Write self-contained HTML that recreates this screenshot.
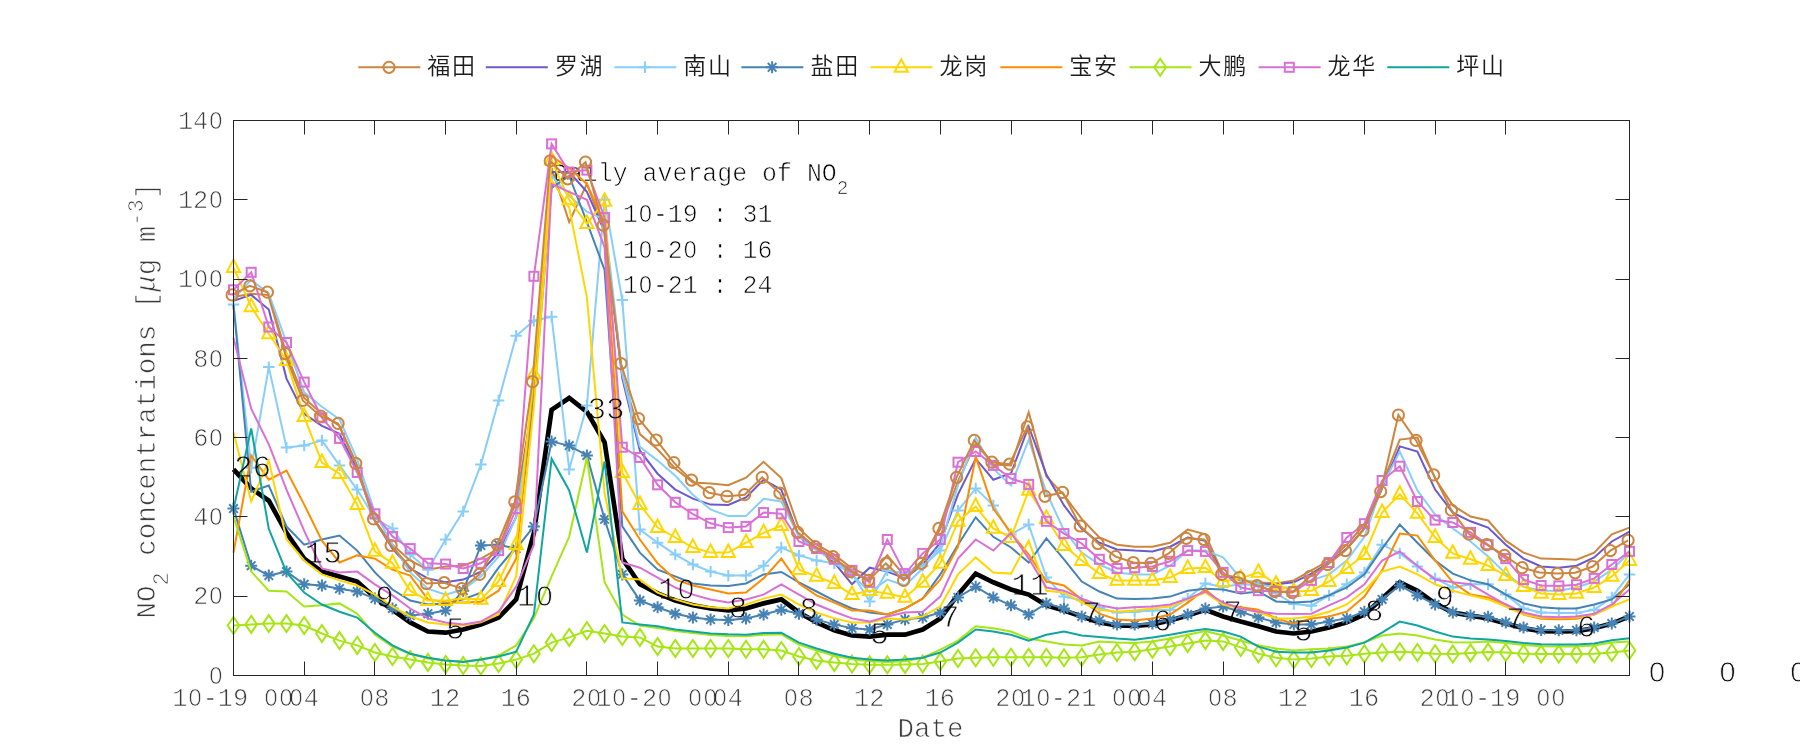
<!DOCTYPE html>
<html lang="zh"><head><meta charset="utf-8"><title>NO2 concentrations</title>
<style>
html,body{margin:0;padding:0;background:#fff;}
body{width:1800px;height:750px;overflow:hidden;}
svg{display:block;will-change:transform;}
.thin text{paint-order:fill stroke;stroke:#fff;stroke-width:0.7px;mix-blend-mode:multiply;}
.thin3 text{paint-order:fill stroke;stroke:#fff;stroke-width:0.7px;}
.thin2{mix-blend-mode:multiply;}
.thin2 text{paint-order:fill stroke;stroke:#fff;stroke-width:0.85px;}
</style></head><body>
<svg width="1800" height="750" viewBox="0 0 1800 750">
<rect width="1800" height="750" fill="#fff"/>
<defs><clipPath id="cp"><rect x="221.5" y="108.5" width="1420.0" height="579.0"/></clipPath></defs>
<g font-family="'Liberation Mono', monospace" font-size="24.9" fill="#000" class="thin3">
<text x="553" y="181">Daily average of NO<tspan dy="12.5" font-size="19.5">2</tspan></text>
<text y="222.0" xml:space="preserve" ><tspan x="623.00">1</tspan><tspan x="638.94" font-family="'Liberation Sans', sans-serif" font-size="23.28">0</tspan><tspan x="652.88">-19 : 31</tspan></text>
<text y="257.5" xml:space="preserve" ><tspan x="623.00">1</tspan><tspan x="638.94" font-family="'Liberation Sans', sans-serif" font-size="23.28">0</tspan><tspan x="652.88">-2</tspan><tspan x="683.77" font-family="'Liberation Sans', sans-serif" font-size="23.28">0</tspan><tspan x="697.71"> : 16</tspan></text>
<text y="293.0" xml:space="preserve" ><tspan x="623.00">1</tspan><tspan x="638.94" font-family="'Liberation Sans', sans-serif" font-size="23.28">0</tspan><tspan x="652.88">-21 : 24</tspan></text>
</g>
<g clip-path="url(#cp)"><polyline points="233.5,469.4 251.2,488.4 268.8,500.7 286.5,532.8 304.2,558.6 321.9,571.6 339.5,576.4 357.2,581.5 374.9,597.4 392.5,609.7 410.2,622.4 427.9,631.5 445.6,632.7 463.2,629.5 480.9,624.4 498.6,617.6 516.2,599.4 533.9,532.8 551.6,409.9 569.2,398.0 586.9,411.9 604.6,442.4 622.3,558.6 639.9,584.3 657.6,593.4 675.3,600.6 692.9,605.3 710.6,608.5 728.3,610.5 746.0,608.5 763.6,603.4 781.3,599.4 799.0,612.5 816.6,622.4 834.3,630.3 852.0,635.5 869.7,636.6 887.3,634.7 905.0,634.7 922.7,629.5 940.3,618.4 958.0,594.6 975.7,573.6 993.3,582.3 1011.0,589.5 1028.7,594.6 1046.4,605.3 1064.0,610.5 1081.7,616.4 1099.4,622.4 1117.0,625.5 1134.7,625.9 1152.4,624.4 1170.1,620.4 1187.7,615.6 1205.4,609.7 1223.1,616.4 1240.7,621.6 1258.4,626.3 1276.1,631.5 1293.8,633.5 1311.4,631.5 1329.1,627.5 1346.8,622.4 1364.4,614.5 1382.1,598.6 1399.8,582.3 1417.4,590.7 1435.1,603.4 1452.8,612.5 1470.5,615.6 1488.1,618.4 1505.8,623.6 1523.5,628.3 1541.1,631.1 1558.8,631.5 1576.5,631.1 1594.2,628.3 1611.8,623.6 1629.5,616.4" fill="none" stroke="#000" stroke-width="4.70" stroke-linejoin="miter" />
<polyline points="233.5,296.9 251.2,293.7 268.8,294.9 286.5,354.4 304.2,398.0 321.9,413.9 339.5,425.8 357.2,465.4 374.9,520.9 392.5,544.7 410.2,560.5 427.9,569.7 445.6,566.5 463.2,565.7 480.9,558.6 498.6,548.6 516.2,501.1 533.9,398.0 551.6,168.1 569.2,222.0 586.9,183.9 604.6,231.5 622.3,374.2 639.9,434.1 657.6,449.5 675.3,468.6 692.9,482.4 710.6,483.6 728.3,485.2 746.0,477.7 763.6,461.8 781.3,478.1 799.0,528.8 816.6,544.7 834.3,554.6 852.0,568.5 869.7,576.4 887.3,555.4 905.0,576.4 922.7,560.5 940.3,528.8 958.0,481.2 975.7,443.6 993.3,464.6 1011.0,465.4 1028.7,412.3 1046.4,476.5 1064.0,495.1 1081.7,518.9 1099.4,537.5 1117.0,544.7 1134.7,546.7 1152.4,546.7 1170.1,542.7 1187.7,529.6 1205.4,534.4 1223.1,574.4 1240.7,580.4 1258.4,582.3 1276.1,583.5 1293.8,580.4 1311.4,570.4 1329.1,560.5 1346.8,544.7 1364.4,524.5 1382.1,484.4 1399.8,439.6 1417.4,437.6 1435.1,478.5 1452.8,505.4 1470.5,516.5 1488.1,520.5 1505.8,540.7 1523.5,552.6 1541.1,558.6 1558.8,559.0 1576.5,559.7 1594.2,552.6 1611.8,534.4 1629.5,527.6" fill="none" stroke="#CD853F" stroke-width="2.00" stroke-linejoin="miter" />
<polyline points="233.5,300.9 251.2,294.9 268.8,309.6 286.5,378.6 304.2,413.9 321.9,425.8 339.5,433.7 357.2,469.4 374.9,520.9 392.5,548.6 410.2,568.5 427.9,578.4 445.6,582.3 463.2,579.6 480.9,571.6 498.6,552.6 516.2,516.9 533.9,390.1 551.6,172.0 569.2,172.0 586.9,191.9 604.6,231.5 622.3,378.2 639.9,450.7 657.6,473.7 675.3,489.6 692.9,498.7 710.6,504.6 728.3,505.0 746.0,497.5 763.6,479.7 781.3,489.6 799.0,536.8 816.6,548.6 834.3,562.5 852.0,584.3 869.7,567.7 887.3,571.6 905.0,578.4 922.7,564.5 940.3,542.7 958.0,494.3 975.7,458.7 993.3,479.7 1011.0,473.3 1028.7,426.5 1046.4,474.5 1064.0,505.4 1081.7,528.8 1099.4,542.7 1117.0,549.4 1134.7,550.6 1152.4,551.4 1170.1,546.7 1187.7,537.5 1205.4,540.7 1223.1,575.6 1240.7,579.6 1258.4,584.3 1276.1,584.3 1293.8,582.3 1311.4,573.6 1329.1,562.5 1346.8,548.6 1364.4,528.4 1382.1,488.4 1399.8,446.4 1417.4,451.5 1435.1,489.6 1452.8,512.6 1470.5,521.3 1488.1,527.6 1505.8,544.7 1523.5,558.6 1541.1,566.5 1558.8,567.7 1576.5,565.7 1594.2,557.4 1611.8,541.5 1629.5,531.6" fill="none" stroke="#6A5ACD" stroke-width="2.00" stroke-linejoin="miter" />
<polyline points="233.5,298.9 251.2,279.9 268.8,293.7 286.5,342.5 304.2,392.4 321.9,406.7 339.5,419.4 357.2,459.4 374.9,512.6 392.5,544.7 410.2,572.4 427.9,588.7 445.6,594.6 463.2,589.5 480.9,576.4 498.6,556.6 516.2,516.9 533.9,398.0 551.6,176.0 569.2,195.8 586.9,211.7 604.6,219.6 622.3,374.2 639.9,446.8 657.6,460.6 675.3,475.7 692.9,494.7 710.6,509.4 728.3,516.1 746.0,516.1 763.6,498.7 781.3,501.5 799.0,536.8 816.6,550.6 834.3,560.5 852.0,574.4 869.7,592.2 887.3,579.6 905.0,585.5 922.7,568.5 940.3,546.7 958.0,485.2 975.7,437.6 993.3,468.6 1011.0,485.6 1028.7,439.6 1046.4,492.4 1064.0,530.4 1081.7,552.6 1099.4,564.5 1117.0,572.4 1134.7,574.4 1152.4,574.4 1170.1,565.7 1187.7,550.6 1205.4,550.6 1223.1,557.4 1240.7,578.4 1258.4,584.3 1276.1,587.5 1293.8,587.5 1311.4,580.4 1329.1,574.4 1346.8,560.5 1364.4,536.8 1382.1,486.4 1399.8,451.5 1417.4,490.4 1435.1,514.5 1452.8,528.4 1470.5,541.5 1488.1,556.6 1505.8,573.6 1523.5,586.7 1541.1,590.7 1558.8,590.7 1576.5,587.5 1594.2,581.5 1611.8,569.7 1629.5,552.6" fill="none" stroke="#87CEFA" stroke-width="2.00" stroke-linejoin="miter" />
<polyline points="233.5,304.4 251.2,467.8 268.8,367.1 286.5,447.6 304.2,445.6 321.9,440.4 339.5,465.4 357.2,489.6 374.9,518.5 392.5,528.4 410.2,554.6 427.9,569.7 445.6,539.5 463.2,511.4 480.9,464.6 498.6,400.4 516.2,335.8 533.9,320.7 551.6,316.7 569.2,469.4 586.9,405.5 604.6,199.8 622.3,300.1 639.9,529.6 657.6,542.7 675.3,554.6 692.9,564.5 710.6,571.6 728.3,575.6 746.0,575.6 763.6,565.7 781.3,547.5 799.0,555.4 816.6,560.5 834.3,563.3 852.0,573.6 869.7,601.4 887.3,570.4 905.0,573.6 922.7,565.7 940.3,550.6 958.0,510.6 975.7,488.4 993.3,505.4 1011.0,534.4 1028.7,524.5 1046.4,577.6 1064.0,596.6 1081.7,600.2 1099.4,608.1 1117.0,612.5 1134.7,611.7 1152.4,610.5 1170.1,609.7 1187.7,598.6 1205.4,583.5 1223.1,586.7 1240.7,584.3 1258.4,585.1 1276.1,593.4 1293.8,604.1 1311.4,605.7 1329.1,595.4 1346.8,584.3 1364.4,572.4 1382.1,544.7 1399.8,553.4 1417.4,566.5 1435.1,578.4 1452.8,587.5 1470.5,584.3 1488.1,584.3 1505.8,594.6 1523.5,608.5 1541.1,612.5 1558.8,612.9 1576.5,612.9 1594.2,609.7 1611.8,597.4 1629.5,574.4" fill="none" stroke="#87CEFA" stroke-width="2.00" stroke-linejoin="miter" />
<g><path d="M227.8 304.4h11.4M233.5 298.7v11.4" stroke="#87CEFA" stroke-width="2.0" fill="none"/><path d="M245.5 467.8h11.4M251.2 462.1v11.4" stroke="#87CEFA" stroke-width="2.0" fill="none"/><path d="M263.1 367.1h11.4M268.8 361.4v11.4" stroke="#87CEFA" stroke-width="2.0" fill="none"/><path d="M280.8 447.6h11.4M286.5 441.9v11.4" stroke="#87CEFA" stroke-width="2.0" fill="none"/><path d="M298.5 445.6h11.4M304.2 439.9v11.4" stroke="#87CEFA" stroke-width="2.0" fill="none"/><path d="M316.2 440.4h11.4M321.9 434.7v11.4" stroke="#87CEFA" stroke-width="2.0" fill="none"/><path d="M333.8 465.4h11.4M339.5 459.7v11.4" stroke="#87CEFA" stroke-width="2.0" fill="none"/><path d="M351.5 489.6h11.4M357.2 483.9v11.4" stroke="#87CEFA" stroke-width="2.0" fill="none"/><path d="M369.2 518.5h11.4M374.9 512.8v11.4" stroke="#87CEFA" stroke-width="2.0" fill="none"/><path d="M386.8 528.4h11.4M392.5 522.7v11.4" stroke="#87CEFA" stroke-width="2.0" fill="none"/><path d="M404.5 554.6h11.4M410.2 548.9v11.4" stroke="#87CEFA" stroke-width="2.0" fill="none"/><path d="M422.2 569.7h11.4M427.9 564.0v11.4" stroke="#87CEFA" stroke-width="2.0" fill="none"/><path d="M439.9 539.5h11.4M445.6 533.8v11.4" stroke="#87CEFA" stroke-width="2.0" fill="none"/><path d="M457.5 511.4h11.4M463.2 505.7v11.4" stroke="#87CEFA" stroke-width="2.0" fill="none"/><path d="M475.2 464.6h11.4M480.9 458.9v11.4" stroke="#87CEFA" stroke-width="2.0" fill="none"/><path d="M492.9 400.4h11.4M498.6 394.7v11.4" stroke="#87CEFA" stroke-width="2.0" fill="none"/><path d="M510.5 335.8h11.4M516.2 330.1v11.4" stroke="#87CEFA" stroke-width="2.0" fill="none"/><path d="M528.2 320.7h11.4M533.9 315.0v11.4" stroke="#87CEFA" stroke-width="2.0" fill="none"/><path d="M545.9 316.7h11.4M551.6 311.0v11.4" stroke="#87CEFA" stroke-width="2.0" fill="none"/><path d="M563.5 469.4h11.4M569.2 463.7v11.4" stroke="#87CEFA" stroke-width="2.0" fill="none"/><path d="M581.2 405.5h11.4M586.9 399.8v11.4" stroke="#87CEFA" stroke-width="2.0" fill="none"/><path d="M598.9 199.8h11.4M604.6 194.1v11.4" stroke="#87CEFA" stroke-width="2.0" fill="none"/><path d="M616.6 300.1h11.4M622.3 294.4v11.4" stroke="#87CEFA" stroke-width="2.0" fill="none"/><path d="M634.2 529.6h11.4M639.9 523.9v11.4" stroke="#87CEFA" stroke-width="2.0" fill="none"/><path d="M651.9 542.7h11.4M657.6 537.0v11.4" stroke="#87CEFA" stroke-width="2.0" fill="none"/><path d="M669.6 554.6h11.4M675.3 548.9v11.4" stroke="#87CEFA" stroke-width="2.0" fill="none"/><path d="M687.2 564.5h11.4M692.9 558.8v11.4" stroke="#87CEFA" stroke-width="2.0" fill="none"/><path d="M704.9 571.6h11.4M710.6 565.9v11.4" stroke="#87CEFA" stroke-width="2.0" fill="none"/><path d="M722.6 575.6h11.4M728.3 569.9v11.4" stroke="#87CEFA" stroke-width="2.0" fill="none"/><path d="M740.3 575.6h11.4M746.0 569.9v11.4" stroke="#87CEFA" stroke-width="2.0" fill="none"/><path d="M757.9 565.7h11.4M763.6 560.0v11.4" stroke="#87CEFA" stroke-width="2.0" fill="none"/><path d="M775.6 547.5h11.4M781.3 541.8v11.4" stroke="#87CEFA" stroke-width="2.0" fill="none"/><path d="M793.3 555.4h11.4M799.0 549.7v11.4" stroke="#87CEFA" stroke-width="2.0" fill="none"/><path d="M810.9 560.5h11.4M816.6 554.8v11.4" stroke="#87CEFA" stroke-width="2.0" fill="none"/><path d="M828.6 563.3h11.4M834.3 557.6v11.4" stroke="#87CEFA" stroke-width="2.0" fill="none"/><path d="M846.3 573.6h11.4M852.0 567.9v11.4" stroke="#87CEFA" stroke-width="2.0" fill="none"/><path d="M864.0 601.4h11.4M869.7 595.7v11.4" stroke="#87CEFA" stroke-width="2.0" fill="none"/><path d="M881.6 570.4h11.4M887.3 564.7v11.4" stroke="#87CEFA" stroke-width="2.0" fill="none"/><path d="M899.3 573.6h11.4M905.0 567.9v11.4" stroke="#87CEFA" stroke-width="2.0" fill="none"/><path d="M917.0 565.7h11.4M922.7 560.0v11.4" stroke="#87CEFA" stroke-width="2.0" fill="none"/><path d="M934.6 550.6h11.4M940.3 544.9v11.4" stroke="#87CEFA" stroke-width="2.0" fill="none"/><path d="M952.3 510.6h11.4M958.0 504.9v11.4" stroke="#87CEFA" stroke-width="2.0" fill="none"/><path d="M970.0 488.4h11.4M975.7 482.7v11.4" stroke="#87CEFA" stroke-width="2.0" fill="none"/><path d="M987.6 505.4h11.4M993.3 499.7v11.4" stroke="#87CEFA" stroke-width="2.0" fill="none"/><path d="M1005.3 534.4h11.4M1011.0 528.7v11.4" stroke="#87CEFA" stroke-width="2.0" fill="none"/><path d="M1023.0 524.5h11.4M1028.7 518.8v11.4" stroke="#87CEFA" stroke-width="2.0" fill="none"/><path d="M1040.7 577.6h11.4M1046.4 571.9v11.4" stroke="#87CEFA" stroke-width="2.0" fill="none"/><path d="M1058.3 596.6h11.4M1064.0 590.9v11.4" stroke="#87CEFA" stroke-width="2.0" fill="none"/><path d="M1076.0 600.2h11.4M1081.7 594.5v11.4" stroke="#87CEFA" stroke-width="2.0" fill="none"/><path d="M1093.7 608.1h11.4M1099.4 602.4v11.4" stroke="#87CEFA" stroke-width="2.0" fill="none"/><path d="M1111.3 612.5h11.4M1117.0 606.8v11.4" stroke="#87CEFA" stroke-width="2.0" fill="none"/><path d="M1129.0 611.7h11.4M1134.7 606.0v11.4" stroke="#87CEFA" stroke-width="2.0" fill="none"/><path d="M1146.7 610.5h11.4M1152.4 604.8v11.4" stroke="#87CEFA" stroke-width="2.0" fill="none"/><path d="M1164.4 609.7h11.4M1170.1 604.0v11.4" stroke="#87CEFA" stroke-width="2.0" fill="none"/><path d="M1182.0 598.6h11.4M1187.7 592.9v11.4" stroke="#87CEFA" stroke-width="2.0" fill="none"/><path d="M1199.7 583.5h11.4M1205.4 577.8v11.4" stroke="#87CEFA" stroke-width="2.0" fill="none"/><path d="M1217.4 586.7h11.4M1223.1 581.0v11.4" stroke="#87CEFA" stroke-width="2.0" fill="none"/><path d="M1235.0 584.3h11.4M1240.7 578.6v11.4" stroke="#87CEFA" stroke-width="2.0" fill="none"/><path d="M1252.7 585.1h11.4M1258.4 579.4v11.4" stroke="#87CEFA" stroke-width="2.0" fill="none"/><path d="M1270.4 593.4h11.4M1276.1 587.7v11.4" stroke="#87CEFA" stroke-width="2.0" fill="none"/><path d="M1288.1 604.1h11.4M1293.8 598.4v11.4" stroke="#87CEFA" stroke-width="2.0" fill="none"/><path d="M1305.7 605.7h11.4M1311.4 600.0v11.4" stroke="#87CEFA" stroke-width="2.0" fill="none"/><path d="M1323.4 595.4h11.4M1329.1 589.7v11.4" stroke="#87CEFA" stroke-width="2.0" fill="none"/><path d="M1341.1 584.3h11.4M1346.8 578.6v11.4" stroke="#87CEFA" stroke-width="2.0" fill="none"/><path d="M1358.7 572.4h11.4M1364.4 566.7v11.4" stroke="#87CEFA" stroke-width="2.0" fill="none"/><path d="M1376.4 544.7h11.4M1382.1 539.0v11.4" stroke="#87CEFA" stroke-width="2.0" fill="none"/><path d="M1394.1 553.4h11.4M1399.8 547.7v11.4" stroke="#87CEFA" stroke-width="2.0" fill="none"/><path d="M1411.7 566.5h11.4M1417.4 560.8v11.4" stroke="#87CEFA" stroke-width="2.0" fill="none"/><path d="M1429.4 578.4h11.4M1435.1 572.7v11.4" stroke="#87CEFA" stroke-width="2.0" fill="none"/><path d="M1447.1 587.5h11.4M1452.8 581.8v11.4" stroke="#87CEFA" stroke-width="2.0" fill="none"/><path d="M1464.8 584.3h11.4M1470.5 578.6v11.4" stroke="#87CEFA" stroke-width="2.0" fill="none"/><path d="M1482.4 584.3h11.4M1488.1 578.6v11.4" stroke="#87CEFA" stroke-width="2.0" fill="none"/><path d="M1500.1 594.6h11.4M1505.8 588.9v11.4" stroke="#87CEFA" stroke-width="2.0" fill="none"/><path d="M1517.8 608.5h11.4M1523.5 602.8v11.4" stroke="#87CEFA" stroke-width="2.0" fill="none"/><path d="M1535.4 612.5h11.4M1541.1 606.8v11.4" stroke="#87CEFA" stroke-width="2.0" fill="none"/><path d="M1553.1 612.9h11.4M1558.8 607.2v11.4" stroke="#87CEFA" stroke-width="2.0" fill="none"/><path d="M1570.8 612.9h11.4M1576.5 607.2v11.4" stroke="#87CEFA" stroke-width="2.0" fill="none"/><path d="M1588.5 609.7h11.4M1594.2 604.0v11.4" stroke="#87CEFA" stroke-width="2.0" fill="none"/><path d="M1606.1 597.4h11.4M1611.8 591.7v11.4" stroke="#87CEFA" stroke-width="2.0" fill="none"/><path d="M1623.8 574.4h11.4M1629.5 568.7v11.4" stroke="#87CEFA" stroke-width="2.0" fill="none"/></g>
<polyline points="233.5,304.8 251.2,491.6 268.8,485.6 286.5,526.4 304.2,544.7 321.9,539.5 339.5,535.6 357.2,550.6 374.9,572.4 392.5,589.5 410.2,600.6 427.9,604.5 445.6,603.4 463.2,599.4 480.9,592.6 498.6,567.7 516.2,546.7 533.9,398.0 551.6,187.9 569.2,176.0 586.9,222.0 604.6,270.0 622.3,526.4 639.9,552.6 657.6,569.7 675.3,576.4 692.9,583.5 710.6,585.5 728.3,585.9 746.0,583.5 763.6,574.4 781.3,572.0 799.0,582.3 816.6,591.5 834.3,600.6 852.0,608.5 869.7,612.5 887.3,614.5 905.0,608.5 922.7,598.6 940.3,574.4 958.0,544.7 975.7,517.3 993.3,536.8 1011.0,547.5 1028.7,562.5 1046.4,538.3 1064.0,559.3 1081.7,581.5 1099.4,591.5 1117.0,598.6 1134.7,599.0 1152.4,598.6 1170.1,596.6 1187.7,590.7 1205.4,588.7 1223.1,589.5 1240.7,593.4 1258.4,591.5 1276.1,601.4 1293.8,602.6 1311.4,601.4 1329.1,595.4 1346.8,587.5 1364.4,574.4 1382.1,548.6 1399.8,524.5 1417.4,542.7 1435.1,560.5 1452.8,573.6 1470.5,580.4 1488.1,584.3 1505.8,594.6 1523.5,603.4 1541.1,607.3 1558.8,608.5 1576.5,608.5 1594.2,604.5 1611.8,599.4 1629.5,584.3" fill="none" stroke="#4682B4" stroke-width="2.00" stroke-linejoin="miter" />
<polyline points="233.5,508.6 251.2,565.7 268.8,575.6 286.5,571.6 304.2,584.3 321.9,585.5 339.5,588.7 357.2,591.5 374.9,598.6 392.5,608.5 410.2,615.6 427.9,613.7 445.6,610.5 463.2,590.7 480.9,545.5 498.6,544.7 516.2,548.6 533.9,526.4 551.6,441.6 569.2,445.6 586.9,455.5 604.6,519.3 622.3,574.4 639.9,600.6 657.6,607.3 675.3,613.7 692.9,617.6 710.6,619.6 728.3,620.0 746.0,618.4 763.6,614.5 781.3,609.7 799.0,613.7 816.6,619.6 834.3,624.4 852.0,628.3 869.7,629.5 887.3,624.4 905.0,619.6 922.7,617.6 940.3,612.5 958.0,597.4 975.7,586.7 993.3,597.4 1011.0,605.3 1028.7,614.5 1046.4,603.4 1064.0,608.5 1081.7,616.4 1099.4,620.4 1117.0,624.4 1134.7,624.4 1152.4,623.6 1170.1,619.6 1187.7,614.5 1205.4,608.5 1223.1,606.5 1240.7,611.7 1258.4,617.6 1276.1,622.4 1293.8,624.4 1311.4,624.4 1329.1,621.6 1346.8,618.4 1364.4,611.7 1382.1,599.4 1399.8,585.5 1417.4,595.4 1435.1,604.5 1452.8,612.5 1470.5,615.6 1488.1,616.8 1505.8,622.4 1523.5,627.5 1541.1,629.9 1558.8,630.3 1576.5,630.3 1594.2,627.5 1611.8,623.6 1629.5,616.4" fill="none" stroke="#4682B4" stroke-width="2.00" stroke-linejoin="miter" />
<g><path d="M227.5 508.6h12.0M233.5 502.6v12.0M229.2 504.3l8.6 8.6M229.2 512.9l8.6 -8.6" stroke="#4682B4" stroke-width="2.0" fill="none"/><path d="M245.2 565.7h12.0M251.2 559.7v12.0M246.9 561.4l8.6 8.6M246.9 570.0l8.6 -8.6" stroke="#4682B4" stroke-width="2.0" fill="none"/><path d="M262.8 575.6h12.0M268.8 569.6v12.0M264.5 571.3l8.6 8.6M264.5 579.9l8.6 -8.6" stroke="#4682B4" stroke-width="2.0" fill="none"/><path d="M280.5 571.6h12.0M286.5 565.6v12.0M282.2 567.3l8.6 8.6M282.2 575.9l8.6 -8.6" stroke="#4682B4" stroke-width="2.0" fill="none"/><path d="M298.2 584.3h12.0M304.2 578.3v12.0M299.9 580.0l8.6 8.6M299.9 588.6l8.6 -8.6" stroke="#4682B4" stroke-width="2.0" fill="none"/><path d="M315.9 585.5h12.0M321.9 579.5v12.0M317.6 581.2l8.6 8.6M317.6 589.8l8.6 -8.6" stroke="#4682B4" stroke-width="2.0" fill="none"/><path d="M333.5 588.7h12.0M339.5 582.7v12.0M335.2 584.4l8.6 8.6M335.2 593.0l8.6 -8.6" stroke="#4682B4" stroke-width="2.0" fill="none"/><path d="M351.2 591.5h12.0M357.2 585.5v12.0M352.9 587.2l8.6 8.6M352.9 595.8l8.6 -8.6" stroke="#4682B4" stroke-width="2.0" fill="none"/><path d="M368.9 598.6h12.0M374.9 592.6v12.0M370.6 594.3l8.6 8.6M370.6 602.9l8.6 -8.6" stroke="#4682B4" stroke-width="2.0" fill="none"/><path d="M386.5 608.5h12.0M392.5 602.5v12.0M388.2 604.2l8.6 8.6M388.2 612.8l8.6 -8.6" stroke="#4682B4" stroke-width="2.0" fill="none"/><path d="M404.2 615.6h12.0M410.2 609.6v12.0M405.9 611.3l8.6 8.6M405.9 619.9l8.6 -8.6" stroke="#4682B4" stroke-width="2.0" fill="none"/><path d="M421.9 613.7h12.0M427.9 607.7v12.0M423.6 609.4l8.6 8.6M423.6 618.0l8.6 -8.6" stroke="#4682B4" stroke-width="2.0" fill="none"/><path d="M439.6 610.5h12.0M445.6 604.5v12.0M441.3 606.2l8.6 8.6M441.3 614.8l8.6 -8.6" stroke="#4682B4" stroke-width="2.0" fill="none"/><path d="M457.2 590.7h12.0M463.2 584.7v12.0M458.9 586.4l8.6 8.6M458.9 595.0l8.6 -8.6" stroke="#4682B4" stroke-width="2.0" fill="none"/><path d="M474.9 545.5h12.0M480.9 539.5v12.0M476.6 541.2l8.6 8.6M476.6 549.8l8.6 -8.6" stroke="#4682B4" stroke-width="2.0" fill="none"/><path d="M492.6 544.7h12.0M498.6 538.7v12.0M494.3 540.4l8.6 8.6M494.3 549.0l8.6 -8.6" stroke="#4682B4" stroke-width="2.0" fill="none"/><path d="M510.2 548.6h12.0M516.2 542.6v12.0M511.9 544.3l8.6 8.6M511.9 552.9l8.6 -8.6" stroke="#4682B4" stroke-width="2.0" fill="none"/><path d="M527.9 526.4h12.0M533.9 520.4v12.0M529.6 522.1l8.6 8.6M529.6 530.7l8.6 -8.6" stroke="#4682B4" stroke-width="2.0" fill="none"/><path d="M545.6 441.6h12.0M551.6 435.6v12.0M547.3 437.3l8.6 8.6M547.3 445.9l8.6 -8.6" stroke="#4682B4" stroke-width="2.0" fill="none"/><path d="M563.2 445.6h12.0M569.2 439.6v12.0M564.9 441.3l8.6 8.6M564.9 449.9l8.6 -8.6" stroke="#4682B4" stroke-width="2.0" fill="none"/><path d="M580.9 455.5h12.0M586.9 449.5v12.0M582.6 451.2l8.6 8.6M582.6 459.8l8.6 -8.6" stroke="#4682B4" stroke-width="2.0" fill="none"/><path d="M598.6 519.3h12.0M604.6 513.3v12.0M600.3 515.0l8.6 8.6M600.3 523.6l8.6 -8.6" stroke="#4682B4" stroke-width="2.0" fill="none"/><path d="M616.3 574.4h12.0M622.3 568.4v12.0M618.0 570.1l8.6 8.6M618.0 578.7l8.6 -8.6" stroke="#4682B4" stroke-width="2.0" fill="none"/><path d="M633.9 600.6h12.0M639.9 594.6v12.0M635.6 596.3l8.6 8.6M635.6 604.9l8.6 -8.6" stroke="#4682B4" stroke-width="2.0" fill="none"/><path d="M651.6 607.3h12.0M657.6 601.3v12.0M653.3 603.0l8.6 8.6M653.3 611.6l8.6 -8.6" stroke="#4682B4" stroke-width="2.0" fill="none"/><path d="M669.3 613.7h12.0M675.3 607.7v12.0M671.0 609.4l8.6 8.6M671.0 618.0l8.6 -8.6" stroke="#4682B4" stroke-width="2.0" fill="none"/><path d="M686.9 617.6h12.0M692.9 611.6v12.0M688.6 613.3l8.6 8.6M688.6 621.9l8.6 -8.6" stroke="#4682B4" stroke-width="2.0" fill="none"/><path d="M704.6 619.6h12.0M710.6 613.6v12.0M706.3 615.3l8.6 8.6M706.3 623.9l8.6 -8.6" stroke="#4682B4" stroke-width="2.0" fill="none"/><path d="M722.3 620.0h12.0M728.3 614.0v12.0M724.0 615.7l8.6 8.6M724.0 624.3l8.6 -8.6" stroke="#4682B4" stroke-width="2.0" fill="none"/><path d="M740.0 618.4h12.0M746.0 612.4v12.0M741.7 614.1l8.6 8.6M741.7 622.7l8.6 -8.6" stroke="#4682B4" stroke-width="2.0" fill="none"/><path d="M757.6 614.5h12.0M763.6 608.5v12.0M759.3 610.2l8.6 8.6M759.3 618.8l8.6 -8.6" stroke="#4682B4" stroke-width="2.0" fill="none"/><path d="M775.3 609.7h12.0M781.3 603.7v12.0M777.0 605.4l8.6 8.6M777.0 614.0l8.6 -8.6" stroke="#4682B4" stroke-width="2.0" fill="none"/><path d="M793.0 613.7h12.0M799.0 607.7v12.0M794.7 609.4l8.6 8.6M794.7 618.0l8.6 -8.6" stroke="#4682B4" stroke-width="2.0" fill="none"/><path d="M810.6 619.6h12.0M816.6 613.6v12.0M812.3 615.3l8.6 8.6M812.3 623.9l8.6 -8.6" stroke="#4682B4" stroke-width="2.0" fill="none"/><path d="M828.3 624.4h12.0M834.3 618.4v12.0M830.0 620.1l8.6 8.6M830.0 628.7l8.6 -8.6" stroke="#4682B4" stroke-width="2.0" fill="none"/><path d="M846.0 628.3h12.0M852.0 622.3v12.0M847.7 624.0l8.6 8.6M847.7 632.6l8.6 -8.6" stroke="#4682B4" stroke-width="2.0" fill="none"/><path d="M863.7 629.5h12.0M869.7 623.5v12.0M865.4 625.2l8.6 8.6M865.4 633.8l8.6 -8.6" stroke="#4682B4" stroke-width="2.0" fill="none"/><path d="M881.3 624.4h12.0M887.3 618.4v12.0M883.0 620.1l8.6 8.6M883.0 628.7l8.6 -8.6" stroke="#4682B4" stroke-width="2.0" fill="none"/><path d="M899.0 619.6h12.0M905.0 613.6v12.0M900.7 615.3l8.6 8.6M900.7 623.9l8.6 -8.6" stroke="#4682B4" stroke-width="2.0" fill="none"/><path d="M916.7 617.6h12.0M922.7 611.6v12.0M918.4 613.3l8.6 8.6M918.4 621.9l8.6 -8.6" stroke="#4682B4" stroke-width="2.0" fill="none"/><path d="M934.3 612.5h12.0M940.3 606.5v12.0M936.0 608.2l8.6 8.6M936.0 616.8l8.6 -8.6" stroke="#4682B4" stroke-width="2.0" fill="none"/><path d="M952.0 597.4h12.0M958.0 591.4v12.0M953.7 593.1l8.6 8.6M953.7 601.7l8.6 -8.6" stroke="#4682B4" stroke-width="2.0" fill="none"/><path d="M969.7 586.7h12.0M975.7 580.7v12.0M971.4 582.4l8.6 8.6M971.4 591.0l8.6 -8.6" stroke="#4682B4" stroke-width="2.0" fill="none"/><path d="M987.3 597.4h12.0M993.3 591.4v12.0M989.0 593.1l8.6 8.6M989.0 601.7l8.6 -8.6" stroke="#4682B4" stroke-width="2.0" fill="none"/><path d="M1005.0 605.3h12.0M1011.0 599.3v12.0M1006.7 601.0l8.6 8.6M1006.7 609.6l8.6 -8.6" stroke="#4682B4" stroke-width="2.0" fill="none"/><path d="M1022.7 614.5h12.0M1028.7 608.5v12.0M1024.4 610.2l8.6 8.6M1024.4 618.8l8.6 -8.6" stroke="#4682B4" stroke-width="2.0" fill="none"/><path d="M1040.4 603.4h12.0M1046.4 597.4v12.0M1042.1 599.1l8.6 8.6M1042.1 607.6l8.6 -8.6" stroke="#4682B4" stroke-width="2.0" fill="none"/><path d="M1058.0 608.5h12.0M1064.0 602.5v12.0M1059.7 604.2l8.6 8.6M1059.7 612.8l8.6 -8.6" stroke="#4682B4" stroke-width="2.0" fill="none"/><path d="M1075.7 616.4h12.0M1081.7 610.4v12.0M1077.4 612.1l8.6 8.6M1077.4 620.7l8.6 -8.6" stroke="#4682B4" stroke-width="2.0" fill="none"/><path d="M1093.4 620.4h12.0M1099.4 614.4v12.0M1095.1 616.1l8.6 8.6M1095.1 624.7l8.6 -8.6" stroke="#4682B4" stroke-width="2.0" fill="none"/><path d="M1111.0 624.4h12.0M1117.0 618.4v12.0M1112.7 620.1l8.6 8.6M1112.7 628.7l8.6 -8.6" stroke="#4682B4" stroke-width="2.0" fill="none"/><path d="M1128.7 624.4h12.0M1134.7 618.4v12.0M1130.4 620.1l8.6 8.6M1130.4 628.7l8.6 -8.6" stroke="#4682B4" stroke-width="2.0" fill="none"/><path d="M1146.4 623.6h12.0M1152.4 617.6v12.0M1148.1 619.3l8.6 8.6M1148.1 627.9l8.6 -8.6" stroke="#4682B4" stroke-width="2.0" fill="none"/><path d="M1164.1 619.6h12.0M1170.1 613.6v12.0M1165.8 615.3l8.6 8.6M1165.8 623.9l8.6 -8.6" stroke="#4682B4" stroke-width="2.0" fill="none"/><path d="M1181.7 614.5h12.0M1187.7 608.5v12.0M1183.4 610.2l8.6 8.6M1183.4 618.8l8.6 -8.6" stroke="#4682B4" stroke-width="2.0" fill="none"/><path d="M1199.4 608.5h12.0M1205.4 602.5v12.0M1201.1 604.2l8.6 8.6M1201.1 612.8l8.6 -8.6" stroke="#4682B4" stroke-width="2.0" fill="none"/><path d="M1217.1 606.5h12.0M1223.1 600.5v12.0M1218.8 602.2l8.6 8.6M1218.8 610.8l8.6 -8.6" stroke="#4682B4" stroke-width="2.0" fill="none"/><path d="M1234.7 611.7h12.0M1240.7 605.7v12.0M1236.4 607.4l8.6 8.6M1236.4 616.0l8.6 -8.6" stroke="#4682B4" stroke-width="2.0" fill="none"/><path d="M1252.4 617.6h12.0M1258.4 611.6v12.0M1254.1 613.3l8.6 8.6M1254.1 621.9l8.6 -8.6" stroke="#4682B4" stroke-width="2.0" fill="none"/><path d="M1270.1 622.4h12.0M1276.1 616.4v12.0M1271.8 618.1l8.6 8.6M1271.8 626.7l8.6 -8.6" stroke="#4682B4" stroke-width="2.0" fill="none"/><path d="M1287.8 624.4h12.0M1293.8 618.4v12.0M1289.5 620.1l8.6 8.6M1289.5 628.7l8.6 -8.6" stroke="#4682B4" stroke-width="2.0" fill="none"/><path d="M1305.4 624.4h12.0M1311.4 618.4v12.0M1307.1 620.1l8.6 8.6M1307.1 628.7l8.6 -8.6" stroke="#4682B4" stroke-width="2.0" fill="none"/><path d="M1323.1 621.6h12.0M1329.1 615.6v12.0M1324.8 617.3l8.6 8.6M1324.8 625.9l8.6 -8.6" stroke="#4682B4" stroke-width="2.0" fill="none"/><path d="M1340.8 618.4h12.0M1346.8 612.4v12.0M1342.5 614.1l8.6 8.6M1342.5 622.7l8.6 -8.6" stroke="#4682B4" stroke-width="2.0" fill="none"/><path d="M1358.4 611.7h12.0M1364.4 605.7v12.0M1360.1 607.4l8.6 8.6M1360.1 616.0l8.6 -8.6" stroke="#4682B4" stroke-width="2.0" fill="none"/><path d="M1376.1 599.4h12.0M1382.1 593.4v12.0M1377.8 595.1l8.6 8.6M1377.8 603.7l8.6 -8.6" stroke="#4682B4" stroke-width="2.0" fill="none"/><path d="M1393.8 585.5h12.0M1399.8 579.5v12.0M1395.5 581.2l8.6 8.6M1395.5 589.8l8.6 -8.6" stroke="#4682B4" stroke-width="2.0" fill="none"/><path d="M1411.4 595.4h12.0M1417.4 589.4v12.0M1413.1 591.1l8.6 8.6M1413.1 599.7l8.6 -8.6" stroke="#4682B4" stroke-width="2.0" fill="none"/><path d="M1429.1 604.5h12.0M1435.1 598.5v12.0M1430.8 600.2l8.6 8.6M1430.8 608.8l8.6 -8.6" stroke="#4682B4" stroke-width="2.0" fill="none"/><path d="M1446.8 612.5h12.0M1452.8 606.5v12.0M1448.5 608.2l8.6 8.6M1448.5 616.8l8.6 -8.6" stroke="#4682B4" stroke-width="2.0" fill="none"/><path d="M1464.5 615.6h12.0M1470.5 609.6v12.0M1466.2 611.3l8.6 8.6M1466.2 619.9l8.6 -8.6" stroke="#4682B4" stroke-width="2.0" fill="none"/><path d="M1482.1 616.8h12.0M1488.1 610.8v12.0M1483.8 612.5l8.6 8.6M1483.8 621.1l8.6 -8.6" stroke="#4682B4" stroke-width="2.0" fill="none"/><path d="M1499.8 622.4h12.0M1505.8 616.4v12.0M1501.5 618.1l8.6 8.6M1501.5 626.7l8.6 -8.6" stroke="#4682B4" stroke-width="2.0" fill="none"/><path d="M1517.5 627.5h12.0M1523.5 621.5v12.0M1519.2 623.2l8.6 8.6M1519.2 631.8l8.6 -8.6" stroke="#4682B4" stroke-width="2.0" fill="none"/><path d="M1535.1 629.9h12.0M1541.1 623.9v12.0M1536.8 625.6l8.6 8.6M1536.8 634.2l8.6 -8.6" stroke="#4682B4" stroke-width="2.0" fill="none"/><path d="M1552.8 630.3h12.0M1558.8 624.3v12.0M1554.5 626.0l8.6 8.6M1554.5 634.6l8.6 -8.6" stroke="#4682B4" stroke-width="2.0" fill="none"/><path d="M1570.5 630.3h12.0M1576.5 624.3v12.0M1572.2 626.0l8.6 8.6M1572.2 634.6l8.6 -8.6" stroke="#4682B4" stroke-width="2.0" fill="none"/><path d="M1588.2 627.5h12.0M1594.2 621.5v12.0M1589.9 623.2l8.6 8.6M1589.9 631.8l8.6 -8.6" stroke="#4682B4" stroke-width="2.0" fill="none"/><path d="M1605.8 623.6h12.0M1611.8 617.6v12.0M1607.5 619.3l8.6 8.6M1607.5 627.9l8.6 -8.6" stroke="#4682B4" stroke-width="2.0" fill="none"/><path d="M1623.5 616.4h12.0M1629.5 610.4v12.0M1625.2 612.1l8.6 8.6M1625.2 620.7l8.6 -8.6" stroke="#4682B4" stroke-width="2.0" fill="none"/></g>
<polyline points="233.5,552.6 251.2,455.5 268.8,479.7 286.5,470.5 304.2,504.6 321.9,540.7 339.5,562.5 357.2,555.4 374.9,558.6 392.5,569.7 410.2,575.6 427.9,599.4 445.6,602.2 463.2,602.6 480.9,601.8 498.6,590.7 516.2,558.6 533.9,378.2 551.6,156.2 569.2,168.1 586.9,183.9 604.6,223.6 622.3,511.4 639.9,539.5 657.6,563.3 675.3,579.6 692.9,585.5 710.6,589.5 728.3,593.4 746.0,592.6 763.6,578.4 781.3,558.6 799.0,583.5 816.6,595.4 834.3,602.6 852.0,610.5 869.7,610.5 887.3,614.5 905.0,608.5 922.7,598.6 940.3,579.6 958.0,546.7 975.7,456.7 993.3,508.6 1011.0,532.8 1028.7,554.6 1046.4,581.5 1064.0,585.5 1081.7,599.4 1099.4,613.7 1117.0,619.6 1134.7,620.4 1152.4,618.4 1170.1,614.5 1187.7,602.6 1205.4,589.5 1223.1,604.5 1240.7,607.3 1258.4,609.7 1276.1,618.4 1293.8,623.6 1311.4,618.4 1329.1,616.4 1346.8,611.7 1364.4,596.6 1382.1,570.4 1399.8,533.6 1417.4,535.6 1435.1,560.5 1452.8,582.3 1470.5,594.6 1488.1,597.4 1505.8,604.5 1523.5,614.5 1541.1,618.8 1558.8,619.2 1576.5,618.8 1594.2,614.5 1611.8,606.5 1629.5,580.4" fill="none" stroke="#FF8C00" stroke-width="2.00" stroke-linejoin="miter" />
<polyline points="233.5,432.5 251.2,501.5 268.8,460.6 286.5,539.5 304.2,560.5 321.9,574.4 339.5,580.4 357.2,585.5 374.9,594.6 392.5,606.5 410.2,616.4 427.9,622.4 445.6,624.4 463.2,625.5 480.9,622.4 498.6,614.5 516.2,576.4 533.9,405.9 551.6,180.0 569.2,207.7 586.9,297.3 604.6,493.1 622.3,578.4 639.9,579.6 657.6,592.6 675.3,599.4 692.9,604.5 710.6,607.3 728.3,608.5 746.0,604.5 763.6,598.6 781.3,594.6 799.0,604.5 816.6,612.5 834.3,618.4 852.0,622.4 869.7,622.4 887.3,618.4 905.0,619.6 922.7,616.4 940.3,606.5 958.0,574.4 975.7,557.4 993.3,572.4 1011.0,573.6 1028.7,540.7 1046.4,590.7 1064.0,592.6 1081.7,602.6 1099.4,609.7 1117.0,611.7 1134.7,610.5 1152.4,608.5 1170.1,606.5 1187.7,599.4 1205.4,592.6 1223.1,604.5 1240.7,608.5 1258.4,612.5 1276.1,618.4 1293.8,618.4 1311.4,616.4 1329.1,611.7 1346.8,604.5 1364.4,590.7 1382.1,571.6 1399.8,566.5 1417.4,574.4 1435.1,584.3 1452.8,590.7 1470.5,595.4 1488.1,599.4 1505.8,606.5 1523.5,614.5 1541.1,617.6 1558.8,617.6 1576.5,617.6 1594.2,614.5 1611.8,606.5 1629.5,599.4" fill="none" stroke="#FFD700" stroke-width="2.00" stroke-linejoin="miter" />
<polyline points="233.5,267.6 251.2,306.8 268.8,333.8 286.5,360.7 304.2,416.6 321.9,462.6 339.5,473.7 357.2,504.6 374.9,551.4 392.5,563.3 410.2,590.7 427.9,600.6 445.6,600.6 463.2,598.6 480.9,599.4 498.6,581.5 516.2,544.7 533.9,374.2 551.6,160.1 569.2,199.8 586.9,223.6 604.6,201.4 622.3,472.5 639.9,504.6 657.6,527.6 675.3,537.5 692.9,547.5 710.6,552.6 728.3,552.6 746.0,542.7 763.6,532.8 781.3,525.6 799.0,569.7 816.6,576.4 834.3,583.5 852.0,594.6 869.7,590.7 887.3,593.4 905.0,597.4 922.7,582.3 940.3,563.3 958.0,521.3 975.7,506.6 993.3,528.4 1011.0,537.5 1028.7,490.4 1046.4,518.5 1064.0,545.5 1081.7,560.5 1099.4,573.6 1117.0,580.4 1134.7,580.4 1152.4,580.4 1170.1,577.6 1187.7,568.5 1205.4,567.7 1223.1,581.5 1240.7,578.4 1258.4,572.4 1276.1,584.3 1293.8,591.5 1311.4,590.7 1329.1,581.5 1346.8,568.5 1364.4,554.6 1382.1,512.6 1399.8,494.3 1417.4,513.4 1435.1,537.5 1452.8,553.4 1470.5,559.3 1488.1,565.7 1505.8,575.6 1523.5,586.7 1541.1,593.4 1558.8,594.6 1576.5,593.4 1594.2,587.5 1611.8,576.4 1629.5,560.5" fill="none" stroke="#FFD700" stroke-width="2.00" stroke-linejoin="miter" />
<g><path d="M233.5 259.5L240.1 272.0L226.9 272.0Z" stroke="#FFD700" stroke-width="2.0" fill="none" stroke-linejoin="miter"/><path d="M251.2 298.7L257.8 311.2L244.6 311.2Z" stroke="#FFD700" stroke-width="2.0" fill="none" stroke-linejoin="miter"/><path d="M268.8 325.7L275.4 338.2L262.2 338.2Z" stroke="#FFD700" stroke-width="2.0" fill="none" stroke-linejoin="miter"/><path d="M286.5 352.6L293.1 365.1L279.9 365.1Z" stroke="#FFD700" stroke-width="2.0" fill="none" stroke-linejoin="miter"/><path d="M304.2 408.5L310.8 421.0L297.6 421.0Z" stroke="#FFD700" stroke-width="2.0" fill="none" stroke-linejoin="miter"/><path d="M321.9 454.5L328.5 467.0L315.3 467.0Z" stroke="#FFD700" stroke-width="2.0" fill="none" stroke-linejoin="miter"/><path d="M339.5 465.6L346.1 478.1L332.9 478.1Z" stroke="#FFD700" stroke-width="2.0" fill="none" stroke-linejoin="miter"/><path d="M357.2 496.5L363.8 509.0L350.6 509.0Z" stroke="#FFD700" stroke-width="2.0" fill="none" stroke-linejoin="miter"/><path d="M374.9 543.3L381.5 555.8L368.3 555.8Z" stroke="#FFD700" stroke-width="2.0" fill="none" stroke-linejoin="miter"/><path d="M392.5 555.2L399.1 567.7L385.9 567.7Z" stroke="#FFD700" stroke-width="2.0" fill="none" stroke-linejoin="miter"/><path d="M410.2 582.6L416.8 595.1L403.6 595.1Z" stroke="#FFD700" stroke-width="2.0" fill="none" stroke-linejoin="miter"/><path d="M427.9 592.5L434.5 605.0L421.3 605.0Z" stroke="#FFD700" stroke-width="2.0" fill="none" stroke-linejoin="miter"/><path d="M445.6 592.5L452.2 605.0L439.0 605.0Z" stroke="#FFD700" stroke-width="2.0" fill="none" stroke-linejoin="miter"/><path d="M463.2 590.5L469.8 603.0L456.6 603.0Z" stroke="#FFD700" stroke-width="2.0" fill="none" stroke-linejoin="miter"/><path d="M480.9 591.3L487.5 603.8L474.3 603.8Z" stroke="#FFD700" stroke-width="2.0" fill="none" stroke-linejoin="miter"/><path d="M498.6 573.4L505.2 585.9L492.0 585.9Z" stroke="#FFD700" stroke-width="2.0" fill="none" stroke-linejoin="miter"/><path d="M516.2 536.6L522.8 549.1L509.6 549.1Z" stroke="#FFD700" stroke-width="2.0" fill="none" stroke-linejoin="miter"/><path d="M533.9 366.1L540.5 378.6L527.3 378.6Z" stroke="#FFD700" stroke-width="2.0" fill="none" stroke-linejoin="miter"/><path d="M551.6 152.0L558.2 164.5L545.0 164.5Z" stroke="#FFD700" stroke-width="2.0" fill="none" stroke-linejoin="miter"/><path d="M569.2 191.7L575.8 204.2L562.6 204.2Z" stroke="#FFD700" stroke-width="2.0" fill="none" stroke-linejoin="miter"/><path d="M586.9 215.5L593.5 228.0L580.3 228.0Z" stroke="#FFD700" stroke-width="2.0" fill="none" stroke-linejoin="miter"/><path d="M604.6 193.3L611.2 205.8L598.0 205.8Z" stroke="#FFD700" stroke-width="2.0" fill="none" stroke-linejoin="miter"/><path d="M622.3 464.4L628.9 476.9L615.7 476.9Z" stroke="#FFD700" stroke-width="2.0" fill="none" stroke-linejoin="miter"/><path d="M639.9 496.5L646.5 509.0L633.3 509.0Z" stroke="#FFD700" stroke-width="2.0" fill="none" stroke-linejoin="miter"/><path d="M657.6 519.5L664.2 532.0L651.0 532.0Z" stroke="#FFD700" stroke-width="2.0" fill="none" stroke-linejoin="miter"/><path d="M675.3 529.4L681.9 541.9L668.7 541.9Z" stroke="#FFD700" stroke-width="2.0" fill="none" stroke-linejoin="miter"/><path d="M692.9 539.4L699.5 551.9L686.3 551.9Z" stroke="#FFD700" stroke-width="2.0" fill="none" stroke-linejoin="miter"/><path d="M710.6 544.5L717.2 557.0L704.0 557.0Z" stroke="#FFD700" stroke-width="2.0" fill="none" stroke-linejoin="miter"/><path d="M728.3 544.5L734.9 557.0L721.7 557.0Z" stroke="#FFD700" stroke-width="2.0" fill="none" stroke-linejoin="miter"/><path d="M746.0 534.6L752.6 547.1L739.4 547.1Z" stroke="#FFD700" stroke-width="2.0" fill="none" stroke-linejoin="miter"/><path d="M763.6 524.7L770.2 537.2L757.0 537.2Z" stroke="#FFD700" stroke-width="2.0" fill="none" stroke-linejoin="miter"/><path d="M781.3 517.5L787.9 530.0L774.7 530.0Z" stroke="#FFD700" stroke-width="2.0" fill="none" stroke-linejoin="miter"/><path d="M799.0 561.6L805.6 574.1L792.4 574.1Z" stroke="#FFD700" stroke-width="2.0" fill="none" stroke-linejoin="miter"/><path d="M816.6 568.3L823.2 580.8L810.0 580.8Z" stroke="#FFD700" stroke-width="2.0" fill="none" stroke-linejoin="miter"/><path d="M834.3 575.4L840.9 587.9L827.7 587.9Z" stroke="#FFD700" stroke-width="2.0" fill="none" stroke-linejoin="miter"/><path d="M852.0 586.5L858.6 599.0L845.4 599.0Z" stroke="#FFD700" stroke-width="2.0" fill="none" stroke-linejoin="miter"/><path d="M869.7 582.6L876.3 595.1L863.1 595.1Z" stroke="#FFD700" stroke-width="2.0" fill="none" stroke-linejoin="miter"/><path d="M887.3 585.3L893.9 597.8L880.7 597.8Z" stroke="#FFD700" stroke-width="2.0" fill="none" stroke-linejoin="miter"/><path d="M905.0 589.3L911.6 601.8L898.4 601.8Z" stroke="#FFD700" stroke-width="2.0" fill="none" stroke-linejoin="miter"/><path d="M922.7 574.2L929.3 586.7L916.1 586.7Z" stroke="#FFD700" stroke-width="2.0" fill="none" stroke-linejoin="miter"/><path d="M940.3 555.2L946.9 567.7L933.7 567.7Z" stroke="#FFD700" stroke-width="2.0" fill="none" stroke-linejoin="miter"/><path d="M958.0 513.2L964.6 525.7L951.4 525.7Z" stroke="#FFD700" stroke-width="2.0" fill="none" stroke-linejoin="miter"/><path d="M975.7 498.5L982.3 511.0L969.1 511.0Z" stroke="#FFD700" stroke-width="2.0" fill="none" stroke-linejoin="miter"/><path d="M993.3 520.3L999.9 532.8L986.7 532.8Z" stroke="#FFD700" stroke-width="2.0" fill="none" stroke-linejoin="miter"/><path d="M1011.0 529.4L1017.6 541.9L1004.4 541.9Z" stroke="#FFD700" stroke-width="2.0" fill="none" stroke-linejoin="miter"/><path d="M1028.7 482.3L1035.3 494.8L1022.1 494.8Z" stroke="#FFD700" stroke-width="2.0" fill="none" stroke-linejoin="miter"/><path d="M1046.4 510.4L1053.0 522.9L1039.8 522.9Z" stroke="#FFD700" stroke-width="2.0" fill="none" stroke-linejoin="miter"/><path d="M1064.0 537.4L1070.6 549.9L1057.4 549.9Z" stroke="#FFD700" stroke-width="2.0" fill="none" stroke-linejoin="miter"/><path d="M1081.7 552.4L1088.3 564.9L1075.1 564.9Z" stroke="#FFD700" stroke-width="2.0" fill="none" stroke-linejoin="miter"/><path d="M1099.4 565.5L1106.0 578.0L1092.8 578.0Z" stroke="#FFD700" stroke-width="2.0" fill="none" stroke-linejoin="miter"/><path d="M1117.0 572.3L1123.6 584.8L1110.4 584.8Z" stroke="#FFD700" stroke-width="2.0" fill="none" stroke-linejoin="miter"/><path d="M1134.7 572.3L1141.3 584.8L1128.1 584.8Z" stroke="#FFD700" stroke-width="2.0" fill="none" stroke-linejoin="miter"/><path d="M1152.4 572.3L1159.0 584.8L1145.8 584.8Z" stroke="#FFD700" stroke-width="2.0" fill="none" stroke-linejoin="miter"/><path d="M1170.1 569.5L1176.7 582.0L1163.5 582.0Z" stroke="#FFD700" stroke-width="2.0" fill="none" stroke-linejoin="miter"/><path d="M1187.7 560.4L1194.3 572.9L1181.1 572.9Z" stroke="#FFD700" stroke-width="2.0" fill="none" stroke-linejoin="miter"/><path d="M1205.4 559.6L1212.0 572.1L1198.8 572.1Z" stroke="#FFD700" stroke-width="2.0" fill="none" stroke-linejoin="miter"/><path d="M1223.1 573.4L1229.7 585.9L1216.5 585.9Z" stroke="#FFD700" stroke-width="2.0" fill="none" stroke-linejoin="miter"/><path d="M1240.7 570.3L1247.3 582.8L1234.1 582.8Z" stroke="#FFD700" stroke-width="2.0" fill="none" stroke-linejoin="miter"/><path d="M1258.4 564.3L1265.0 576.8L1251.8 576.8Z" stroke="#FFD700" stroke-width="2.0" fill="none" stroke-linejoin="miter"/><path d="M1276.1 576.2L1282.7 588.7L1269.5 588.7Z" stroke="#FFD700" stroke-width="2.0" fill="none" stroke-linejoin="miter"/><path d="M1293.8 583.4L1300.4 595.9L1287.2 595.9Z" stroke="#FFD700" stroke-width="2.0" fill="none" stroke-linejoin="miter"/><path d="M1311.4 582.6L1318.0 595.1L1304.8 595.1Z" stroke="#FFD700" stroke-width="2.0" fill="none" stroke-linejoin="miter"/><path d="M1329.1 573.4L1335.7 585.9L1322.5 585.9Z" stroke="#FFD700" stroke-width="2.0" fill="none" stroke-linejoin="miter"/><path d="M1346.8 560.4L1353.4 572.9L1340.2 572.9Z" stroke="#FFD700" stroke-width="2.0" fill="none" stroke-linejoin="miter"/><path d="M1364.4 546.5L1371.0 559.0L1357.8 559.0Z" stroke="#FFD700" stroke-width="2.0" fill="none" stroke-linejoin="miter"/><path d="M1382.1 504.5L1388.7 517.0L1375.5 517.0Z" stroke="#FFD700" stroke-width="2.0" fill="none" stroke-linejoin="miter"/><path d="M1399.8 486.2L1406.4 498.7L1393.2 498.7Z" stroke="#FFD700" stroke-width="2.0" fill="none" stroke-linejoin="miter"/><path d="M1417.4 505.3L1424.0 517.8L1410.8 517.8Z" stroke="#FFD700" stroke-width="2.0" fill="none" stroke-linejoin="miter"/><path d="M1435.1 529.4L1441.7 541.9L1428.5 541.9Z" stroke="#FFD700" stroke-width="2.0" fill="none" stroke-linejoin="miter"/><path d="M1452.8 545.3L1459.4 557.8L1446.2 557.8Z" stroke="#FFD700" stroke-width="2.0" fill="none" stroke-linejoin="miter"/><path d="M1470.5 551.2L1477.1 563.7L1463.9 563.7Z" stroke="#FFD700" stroke-width="2.0" fill="none" stroke-linejoin="miter"/><path d="M1488.1 557.6L1494.7 570.1L1481.5 570.1Z" stroke="#FFD700" stroke-width="2.0" fill="none" stroke-linejoin="miter"/><path d="M1505.8 567.5L1512.4 580.0L1499.2 580.0Z" stroke="#FFD700" stroke-width="2.0" fill="none" stroke-linejoin="miter"/><path d="M1523.5 578.6L1530.1 591.1L1516.9 591.1Z" stroke="#FFD700" stroke-width="2.0" fill="none" stroke-linejoin="miter"/><path d="M1541.1 585.3L1547.7 597.8L1534.5 597.8Z" stroke="#FFD700" stroke-width="2.0" fill="none" stroke-linejoin="miter"/><path d="M1558.8 586.5L1565.4 599.0L1552.2 599.0Z" stroke="#FFD700" stroke-width="2.0" fill="none" stroke-linejoin="miter"/><path d="M1576.5 585.3L1583.1 597.8L1569.9 597.8Z" stroke="#FFD700" stroke-width="2.0" fill="none" stroke-linejoin="miter"/><path d="M1594.2 579.4L1600.8 591.9L1587.6 591.9Z" stroke="#FFD700" stroke-width="2.0" fill="none" stroke-linejoin="miter"/><path d="M1611.8 568.3L1618.4 580.8L1605.2 580.8Z" stroke="#FFD700" stroke-width="2.0" fill="none" stroke-linejoin="miter"/><path d="M1629.5 552.4L1636.1 564.9L1622.9 564.9Z" stroke="#FFD700" stroke-width="2.0" fill="none" stroke-linejoin="miter"/></g>
<polyline points="233.5,516.9 251.2,571.6 268.8,590.7 286.5,591.5 304.2,606.5 321.9,605.3 339.5,603.4 357.2,613.7 374.9,634.7 392.5,646.6 410.2,653.7 427.9,658.5 445.6,660.4 463.2,661.6 480.9,659.6 498.6,655.7 516.2,645.4 533.9,618.4 551.6,576.4 569.2,536.8 586.9,457.5 604.6,582.3 622.3,614.5 639.9,625.5 657.6,627.9 675.3,631.1 692.9,633.1 710.6,635.1 728.3,635.9 746.0,636.3 763.6,634.7 781.3,634.3 799.0,644.6 816.6,650.5 834.3,655.7 852.0,659.2 869.7,661.2 887.3,662.0 905.0,661.2 922.7,657.7 940.3,649.7 958.0,640.6 975.7,626.3 993.3,628.3 1011.0,631.5 1028.7,638.6 1046.4,641.4 1064.0,644.6 1081.7,645.4 1099.4,641.4 1117.0,642.6 1134.7,643.0 1152.4,641.4 1170.1,638.6 1187.7,634.7 1205.4,631.1 1223.1,635.5 1240.7,640.6 1258.4,645.4 1276.1,648.5 1293.8,650.5 1311.4,649.3 1329.1,648.5 1346.8,646.6 1364.4,642.2 1382.1,635.5 1399.8,633.5 1417.4,635.5 1435.1,639.4 1452.8,642.2 1470.5,642.6 1488.1,641.4 1505.8,643.0 1523.5,645.0 1541.1,646.2 1558.8,646.6 1576.5,646.6 1594.2,645.4 1611.8,642.6 1629.5,641.4" fill="none" stroke="#A5E614" stroke-width="2.00" stroke-linejoin="miter" />
<polyline points="233.5,625.5 251.2,624.4 268.8,623.6 286.5,623.6 304.2,625.5 321.9,633.5 339.5,640.6 357.2,645.4 374.9,652.5 392.5,656.5 410.2,659.6 427.9,662.4 445.6,664.4 463.2,665.6 480.9,666.0 498.6,663.6 516.2,659.6 533.9,653.7 551.6,642.6 569.2,637.4 586.9,630.7 604.6,633.5 622.3,636.6 639.9,637.4 657.6,646.6 675.3,648.5 692.9,648.5 710.6,648.5 728.3,648.5 746.0,649.3 763.6,649.3 781.3,650.5 799.0,656.5 816.6,660.4 834.3,662.4 852.0,664.0 869.7,664.8 887.3,664.8 905.0,664.4 922.7,664.0 940.3,661.6 958.0,658.5 975.7,657.7 993.3,657.3 1011.0,657.3 1028.7,657.3 1046.4,657.3 1064.0,657.7 1081.7,657.3 1099.4,654.5 1117.0,652.5 1134.7,651.7 1152.4,649.3 1170.1,646.6 1187.7,643.4 1205.4,640.6 1223.1,641.4 1240.7,647.4 1258.4,653.7 1276.1,657.7 1293.8,659.6 1311.4,658.5 1329.1,656.5 1346.8,655.7 1364.4,653.7 1382.1,652.5 1399.8,651.7 1417.4,652.5 1435.1,653.7 1452.8,654.1 1470.5,652.9 1488.1,652.1 1505.8,652.5 1523.5,653.7 1541.1,654.1 1558.8,654.1 1576.5,654.1 1594.2,653.7 1611.8,652.5 1629.5,650.5" fill="none" stroke="#A5E614" stroke-width="2.00" stroke-linejoin="miter" />
<g><path d="M233.5 617.0L239.3 625.5L233.5 634.0L227.7 625.5Z" stroke="#A5E614" stroke-width="2.0" fill="none" stroke-linejoin="miter"/><path d="M251.2 615.9L257.0 624.4L251.2 632.9L245.4 624.4Z" stroke="#A5E614" stroke-width="2.0" fill="none" stroke-linejoin="miter"/><path d="M268.8 615.1L274.6 623.6L268.8 632.1L263.0 623.6Z" stroke="#A5E614" stroke-width="2.0" fill="none" stroke-linejoin="miter"/><path d="M286.5 615.1L292.3 623.6L286.5 632.1L280.7 623.6Z" stroke="#A5E614" stroke-width="2.0" fill="none" stroke-linejoin="miter"/><path d="M304.2 617.0L310.0 625.5L304.2 634.0L298.4 625.5Z" stroke="#A5E614" stroke-width="2.0" fill="none" stroke-linejoin="miter"/><path d="M321.9 625.0L327.7 633.5L321.9 642.0L316.1 633.5Z" stroke="#A5E614" stroke-width="2.0" fill="none" stroke-linejoin="miter"/><path d="M339.5 632.1L345.3 640.6L339.5 649.1L333.7 640.6Z" stroke="#A5E614" stroke-width="2.0" fill="none" stroke-linejoin="miter"/><path d="M357.2 636.9L363.0 645.4L357.2 653.9L351.4 645.4Z" stroke="#A5E614" stroke-width="2.0" fill="none" stroke-linejoin="miter"/><path d="M374.9 644.0L380.7 652.5L374.9 661.0L369.1 652.5Z" stroke="#A5E614" stroke-width="2.0" fill="none" stroke-linejoin="miter"/><path d="M392.5 648.0L398.3 656.5L392.5 665.0L386.7 656.5Z" stroke="#A5E614" stroke-width="2.0" fill="none" stroke-linejoin="miter"/><path d="M410.2 651.1L416.0 659.6L410.2 668.1L404.4 659.6Z" stroke="#A5E614" stroke-width="2.0" fill="none" stroke-linejoin="miter"/><path d="M427.9 653.9L433.7 662.4L427.9 670.9L422.1 662.4Z" stroke="#A5E614" stroke-width="2.0" fill="none" stroke-linejoin="miter"/><path d="M445.6 655.9L451.4 664.4L445.6 672.9L439.8 664.4Z" stroke="#A5E614" stroke-width="2.0" fill="none" stroke-linejoin="miter"/><path d="M463.2 657.1L469.0 665.6L463.2 674.1L457.4 665.6Z" stroke="#A5E614" stroke-width="2.0" fill="none" stroke-linejoin="miter"/><path d="M480.9 657.5L486.7 666.0L480.9 674.5L475.1 666.0Z" stroke="#A5E614" stroke-width="2.0" fill="none" stroke-linejoin="miter"/><path d="M498.6 655.1L504.4 663.6L498.6 672.1L492.8 663.6Z" stroke="#A5E614" stroke-width="2.0" fill="none" stroke-linejoin="miter"/><path d="M516.2 651.1L522.0 659.6L516.2 668.1L510.4 659.6Z" stroke="#A5E614" stroke-width="2.0" fill="none" stroke-linejoin="miter"/><path d="M533.9 645.2L539.7 653.7L533.9 662.2L528.1 653.7Z" stroke="#A5E614" stroke-width="2.0" fill="none" stroke-linejoin="miter"/><path d="M551.6 634.1L557.4 642.6L551.6 651.1L545.8 642.6Z" stroke="#A5E614" stroke-width="2.0" fill="none" stroke-linejoin="miter"/><path d="M569.2 628.9L575.0 637.4L569.2 645.9L563.4 637.4Z" stroke="#A5E614" stroke-width="2.0" fill="none" stroke-linejoin="miter"/><path d="M586.9 622.2L592.7 630.7L586.9 639.2L581.1 630.7Z" stroke="#A5E614" stroke-width="2.0" fill="none" stroke-linejoin="miter"/><path d="M604.6 625.0L610.4 633.5L604.6 642.0L598.8 633.5Z" stroke="#A5E614" stroke-width="2.0" fill="none" stroke-linejoin="miter"/><path d="M622.3 628.1L628.1 636.6L622.3 645.1L616.5 636.6Z" stroke="#A5E614" stroke-width="2.0" fill="none" stroke-linejoin="miter"/><path d="M639.9 628.9L645.7 637.4L639.9 645.9L634.1 637.4Z" stroke="#A5E614" stroke-width="2.0" fill="none" stroke-linejoin="miter"/><path d="M657.6 638.1L663.4 646.6L657.6 655.1L651.8 646.6Z" stroke="#A5E614" stroke-width="2.0" fill="none" stroke-linejoin="miter"/><path d="M675.3 640.0L681.1 648.5L675.3 657.0L669.5 648.5Z" stroke="#A5E614" stroke-width="2.0" fill="none" stroke-linejoin="miter"/><path d="M692.9 640.0L698.7 648.5L692.9 657.0L687.1 648.5Z" stroke="#A5E614" stroke-width="2.0" fill="none" stroke-linejoin="miter"/><path d="M710.6 640.0L716.4 648.5L710.6 657.0L704.8 648.5Z" stroke="#A5E614" stroke-width="2.0" fill="none" stroke-linejoin="miter"/><path d="M728.3 640.0L734.1 648.5L728.3 657.0L722.5 648.5Z" stroke="#A5E614" stroke-width="2.0" fill="none" stroke-linejoin="miter"/><path d="M746.0 640.8L751.8 649.3L746.0 657.8L740.2 649.3Z" stroke="#A5E614" stroke-width="2.0" fill="none" stroke-linejoin="miter"/><path d="M763.6 640.8L769.4 649.3L763.6 657.8L757.8 649.3Z" stroke="#A5E614" stroke-width="2.0" fill="none" stroke-linejoin="miter"/><path d="M781.3 642.0L787.1 650.5L781.3 659.0L775.5 650.5Z" stroke="#A5E614" stroke-width="2.0" fill="none" stroke-linejoin="miter"/><path d="M799.0 648.0L804.8 656.5L799.0 665.0L793.2 656.5Z" stroke="#A5E614" stroke-width="2.0" fill="none" stroke-linejoin="miter"/><path d="M816.6 651.9L822.4 660.4L816.6 668.9L810.8 660.4Z" stroke="#A5E614" stroke-width="2.0" fill="none" stroke-linejoin="miter"/><path d="M834.3 653.9L840.1 662.4L834.3 670.9L828.5 662.4Z" stroke="#A5E614" stroke-width="2.0" fill="none" stroke-linejoin="miter"/><path d="M852.0 655.5L857.8 664.0L852.0 672.5L846.2 664.0Z" stroke="#A5E614" stroke-width="2.0" fill="none" stroke-linejoin="miter"/><path d="M869.7 656.3L875.5 664.8L869.7 673.3L863.9 664.8Z" stroke="#A5E614" stroke-width="2.0" fill="none" stroke-linejoin="miter"/><path d="M887.3 656.3L893.1 664.8L887.3 673.3L881.5 664.8Z" stroke="#A5E614" stroke-width="2.0" fill="none" stroke-linejoin="miter"/><path d="M905.0 655.9L910.8 664.4L905.0 672.9L899.2 664.4Z" stroke="#A5E614" stroke-width="2.0" fill="none" stroke-linejoin="miter"/><path d="M922.7 655.5L928.5 664.0L922.7 672.5L916.9 664.0Z" stroke="#A5E614" stroke-width="2.0" fill="none" stroke-linejoin="miter"/><path d="M940.3 653.1L946.1 661.6L940.3 670.1L934.5 661.6Z" stroke="#A5E614" stroke-width="2.0" fill="none" stroke-linejoin="miter"/><path d="M958.0 650.0L963.8 658.5L958.0 667.0L952.2 658.5Z" stroke="#A5E614" stroke-width="2.0" fill="none" stroke-linejoin="miter"/><path d="M975.7 649.2L981.5 657.7L975.7 666.2L969.9 657.7Z" stroke="#A5E614" stroke-width="2.0" fill="none" stroke-linejoin="miter"/><path d="M993.3 648.8L999.1 657.3L993.3 665.8L987.5 657.3Z" stroke="#A5E614" stroke-width="2.0" fill="none" stroke-linejoin="miter"/><path d="M1011.0 648.8L1016.8 657.3L1011.0 665.8L1005.2 657.3Z" stroke="#A5E614" stroke-width="2.0" fill="none" stroke-linejoin="miter"/><path d="M1028.7 648.8L1034.5 657.3L1028.7 665.8L1022.9 657.3Z" stroke="#A5E614" stroke-width="2.0" fill="none" stroke-linejoin="miter"/><path d="M1046.4 648.8L1052.2 657.3L1046.4 665.8L1040.6 657.3Z" stroke="#A5E614" stroke-width="2.0" fill="none" stroke-linejoin="miter"/><path d="M1064.0 649.2L1069.8 657.7L1064.0 666.2L1058.2 657.7Z" stroke="#A5E614" stroke-width="2.0" fill="none" stroke-linejoin="miter"/><path d="M1081.7 648.8L1087.5 657.3L1081.7 665.8L1075.9 657.3Z" stroke="#A5E614" stroke-width="2.0" fill="none" stroke-linejoin="miter"/><path d="M1099.4 646.0L1105.2 654.5L1099.4 663.0L1093.6 654.5Z" stroke="#A5E614" stroke-width="2.0" fill="none" stroke-linejoin="miter"/><path d="M1117.0 644.0L1122.8 652.5L1117.0 661.0L1111.2 652.5Z" stroke="#A5E614" stroke-width="2.0" fill="none" stroke-linejoin="miter"/><path d="M1134.7 643.2L1140.5 651.7L1134.7 660.2L1128.9 651.7Z" stroke="#A5E614" stroke-width="2.0" fill="none" stroke-linejoin="miter"/><path d="M1152.4 640.8L1158.2 649.3L1152.4 657.8L1146.6 649.3Z" stroke="#A5E614" stroke-width="2.0" fill="none" stroke-linejoin="miter"/><path d="M1170.1 638.1L1175.9 646.6L1170.1 655.1L1164.3 646.6Z" stroke="#A5E614" stroke-width="2.0" fill="none" stroke-linejoin="miter"/><path d="M1187.7 634.9L1193.5 643.4L1187.7 651.9L1181.9 643.4Z" stroke="#A5E614" stroke-width="2.0" fill="none" stroke-linejoin="miter"/><path d="M1205.4 632.1L1211.2 640.6L1205.4 649.1L1199.6 640.6Z" stroke="#A5E614" stroke-width="2.0" fill="none" stroke-linejoin="miter"/><path d="M1223.1 632.9L1228.9 641.4L1223.1 649.9L1217.3 641.4Z" stroke="#A5E614" stroke-width="2.0" fill="none" stroke-linejoin="miter"/><path d="M1240.7 638.9L1246.5 647.4L1240.7 655.9L1234.9 647.4Z" stroke="#A5E614" stroke-width="2.0" fill="none" stroke-linejoin="miter"/><path d="M1258.4 645.2L1264.2 653.7L1258.4 662.2L1252.6 653.7Z" stroke="#A5E614" stroke-width="2.0" fill="none" stroke-linejoin="miter"/><path d="M1276.1 649.2L1281.9 657.7L1276.1 666.2L1270.3 657.7Z" stroke="#A5E614" stroke-width="2.0" fill="none" stroke-linejoin="miter"/><path d="M1293.8 651.1L1299.6 659.6L1293.8 668.1L1288.0 659.6Z" stroke="#A5E614" stroke-width="2.0" fill="none" stroke-linejoin="miter"/><path d="M1311.4 650.0L1317.2 658.5L1311.4 667.0L1305.6 658.5Z" stroke="#A5E614" stroke-width="2.0" fill="none" stroke-linejoin="miter"/><path d="M1329.1 648.0L1334.9 656.5L1329.1 665.0L1323.3 656.5Z" stroke="#A5E614" stroke-width="2.0" fill="none" stroke-linejoin="miter"/><path d="M1346.8 647.2L1352.6 655.7L1346.8 664.2L1341.0 655.7Z" stroke="#A5E614" stroke-width="2.0" fill="none" stroke-linejoin="miter"/><path d="M1364.4 645.2L1370.2 653.7L1364.4 662.2L1358.6 653.7Z" stroke="#A5E614" stroke-width="2.0" fill="none" stroke-linejoin="miter"/><path d="M1382.1 644.0L1387.9 652.5L1382.1 661.0L1376.3 652.5Z" stroke="#A5E614" stroke-width="2.0" fill="none" stroke-linejoin="miter"/><path d="M1399.8 643.2L1405.6 651.7L1399.8 660.2L1394.0 651.7Z" stroke="#A5E614" stroke-width="2.0" fill="none" stroke-linejoin="miter"/><path d="M1417.4 644.0L1423.2 652.5L1417.4 661.0L1411.6 652.5Z" stroke="#A5E614" stroke-width="2.0" fill="none" stroke-linejoin="miter"/><path d="M1435.1 645.2L1440.9 653.7L1435.1 662.2L1429.3 653.7Z" stroke="#A5E614" stroke-width="2.0" fill="none" stroke-linejoin="miter"/><path d="M1452.8 645.6L1458.6 654.1L1452.8 662.6L1447.0 654.1Z" stroke="#A5E614" stroke-width="2.0" fill="none" stroke-linejoin="miter"/><path d="M1470.5 644.4L1476.3 652.9L1470.5 661.4L1464.7 652.9Z" stroke="#A5E614" stroke-width="2.0" fill="none" stroke-linejoin="miter"/><path d="M1488.1 643.6L1493.9 652.1L1488.1 660.6L1482.3 652.1Z" stroke="#A5E614" stroke-width="2.0" fill="none" stroke-linejoin="miter"/><path d="M1505.8 644.0L1511.6 652.5L1505.8 661.0L1500.0 652.5Z" stroke="#A5E614" stroke-width="2.0" fill="none" stroke-linejoin="miter"/><path d="M1523.5 645.2L1529.3 653.7L1523.5 662.2L1517.7 653.7Z" stroke="#A5E614" stroke-width="2.0" fill="none" stroke-linejoin="miter"/><path d="M1541.1 645.6L1546.9 654.1L1541.1 662.6L1535.3 654.1Z" stroke="#A5E614" stroke-width="2.0" fill="none" stroke-linejoin="miter"/><path d="M1558.8 645.6L1564.6 654.1L1558.8 662.6L1553.0 654.1Z" stroke="#A5E614" stroke-width="2.0" fill="none" stroke-linejoin="miter"/><path d="M1576.5 645.6L1582.3 654.1L1576.5 662.6L1570.7 654.1Z" stroke="#A5E614" stroke-width="2.0" fill="none" stroke-linejoin="miter"/><path d="M1594.2 645.2L1600.0 653.7L1594.2 662.2L1588.4 653.7Z" stroke="#A5E614" stroke-width="2.0" fill="none" stroke-linejoin="miter"/><path d="M1611.8 644.0L1617.6 652.5L1611.8 661.0L1606.0 652.5Z" stroke="#A5E614" stroke-width="2.0" fill="none" stroke-linejoin="miter"/><path d="M1629.5 642.0L1635.3 650.5L1629.5 659.0L1623.7 650.5Z" stroke="#A5E614" stroke-width="2.0" fill="none" stroke-linejoin="miter"/></g>
<polyline points="233.5,337.7 251.2,408.7 268.8,444.4 286.5,489.6 304.2,530.8 321.9,568.5 339.5,572.4 357.2,571.6 374.9,584.3 392.5,595.4 410.2,608.5 427.9,618.4 445.6,622.4 463.2,624.4 480.9,621.6 498.6,611.7 516.2,586.7 533.9,544.7 551.6,183.9 569.2,191.9 586.9,199.8 604.6,247.4 622.3,562.5 639.9,567.7 657.6,577.6 675.3,587.5 692.9,594.6 710.6,599.4 728.3,602.6 746.0,599.4 763.6,594.6 781.3,584.3 799.0,594.6 816.6,604.5 834.3,611.7 852.0,618.4 869.7,621.6 887.3,616.4 905.0,612.5 922.7,611.7 940.3,596.6 958.0,558.6 975.7,539.5 993.3,550.6 1011.0,532.8 1028.7,558.6 1046.4,587.5 1064.0,590.7 1081.7,598.6 1099.4,605.3 1117.0,608.5 1134.7,607.3 1152.4,606.5 1170.1,604.5 1187.7,598.6 1205.4,591.5 1223.1,602.6 1240.7,608.5 1258.4,611.7 1276.1,613.7 1293.8,614.1 1311.4,613.7 1329.1,605.3 1346.8,597.4 1364.4,584.3 1382.1,560.5 1399.8,551.4 1417.4,565.7 1435.1,579.6 1452.8,582.3 1470.5,584.3 1488.1,594.6 1505.8,604.5 1523.5,612.5 1541.1,616.4 1558.8,617.2 1576.5,616.4 1594.2,613.7 1611.8,604.5 1629.5,589.5" fill="none" stroke="#DA70D6" stroke-width="2.00" stroke-linejoin="miter" />
<polyline points="233.5,289.8 251.2,272.3 268.8,327.0 286.5,342.5 304.2,382.1 321.9,417.8 339.5,438.4 357.2,472.5 374.9,513.8 392.5,536.4 410.2,548.6 427.9,563.3 445.6,564.1 463.2,568.5 480.9,563.3 498.6,550.6 516.2,508.6 533.9,276.3 551.6,143.9 569.2,172.0 586.9,170.1 604.6,217.6 622.3,447.2 639.9,457.5 657.6,484.8 675.3,502.3 692.9,514.2 710.6,523.3 728.3,527.6 746.0,526.4 763.6,512.6 781.3,513.8 799.0,541.5 816.6,548.6 834.3,559.3 852.0,570.4 869.7,582.3 887.3,539.5 905.0,573.6 922.7,553.4 940.3,539.5 958.0,462.2 975.7,451.5 993.3,465.4 1011.0,478.5 1028.7,484.4 1046.4,521.3 1064.0,533.6 1081.7,543.5 1099.4,559.3 1117.0,568.5 1134.7,567.7 1152.4,566.5 1170.1,561.3 1187.7,550.6 1205.4,551.4 1223.1,572.4 1240.7,587.5 1258.4,590.7 1276.1,591.5 1293.8,591.5 1311.4,580.4 1329.1,562.5 1346.8,537.5 1364.4,523.7 1382.1,480.5 1399.8,466.2 1417.4,501.5 1435.1,520.1 1452.8,522.5 1470.5,532.4 1488.1,544.7 1505.8,558.6 1523.5,579.6 1541.1,585.5 1558.8,585.9 1576.5,584.7 1594.2,578.4 1611.8,564.5 1629.5,551.4" fill="none" stroke="#DA70D6" stroke-width="2.00" stroke-linejoin="miter" />
<g><rect x="229.0" y="285.3" width="9.0" height="9.0" stroke="#DA70D6" stroke-width="2.0" fill="none"/><rect x="246.7" y="267.8" width="9.0" height="9.0" stroke="#DA70D6" stroke-width="2.0" fill="none"/><rect x="264.3" y="322.5" width="9.0" height="9.0" stroke="#DA70D6" stroke-width="2.0" fill="none"/><rect x="282.0" y="338.0" width="9.0" height="9.0" stroke="#DA70D6" stroke-width="2.0" fill="none"/><rect x="299.7" y="377.6" width="9.0" height="9.0" stroke="#DA70D6" stroke-width="2.0" fill="none"/><rect x="317.4" y="413.3" width="9.0" height="9.0" stroke="#DA70D6" stroke-width="2.0" fill="none"/><rect x="335.0" y="433.9" width="9.0" height="9.0" stroke="#DA70D6" stroke-width="2.0" fill="none"/><rect x="352.7" y="468.0" width="9.0" height="9.0" stroke="#DA70D6" stroke-width="2.0" fill="none"/><rect x="370.4" y="509.3" width="9.0" height="9.0" stroke="#DA70D6" stroke-width="2.0" fill="none"/><rect x="388.0" y="531.9" width="9.0" height="9.0" stroke="#DA70D6" stroke-width="2.0" fill="none"/><rect x="405.7" y="544.1" width="9.0" height="9.0" stroke="#DA70D6" stroke-width="2.0" fill="none"/><rect x="423.4" y="558.8" width="9.0" height="9.0" stroke="#DA70D6" stroke-width="2.0" fill="none"/><rect x="441.1" y="559.6" width="9.0" height="9.0" stroke="#DA70D6" stroke-width="2.0" fill="none"/><rect x="458.7" y="564.0" width="9.0" height="9.0" stroke="#DA70D6" stroke-width="2.0" fill="none"/><rect x="476.4" y="558.8" width="9.0" height="9.0" stroke="#DA70D6" stroke-width="2.0" fill="none"/><rect x="494.1" y="546.1" width="9.0" height="9.0" stroke="#DA70D6" stroke-width="2.0" fill="none"/><rect x="511.7" y="504.1" width="9.0" height="9.0" stroke="#DA70D6" stroke-width="2.0" fill="none"/><rect x="529.4" y="271.8" width="9.0" height="9.0" stroke="#DA70D6" stroke-width="2.0" fill="none"/><rect x="547.1" y="139.4" width="9.0" height="9.0" stroke="#DA70D6" stroke-width="2.0" fill="none"/><rect x="564.7" y="167.5" width="9.0" height="9.0" stroke="#DA70D6" stroke-width="2.0" fill="none"/><rect x="582.4" y="165.6" width="9.0" height="9.0" stroke="#DA70D6" stroke-width="2.0" fill="none"/><rect x="600.1" y="213.1" width="9.0" height="9.0" stroke="#DA70D6" stroke-width="2.0" fill="none"/><rect x="617.8" y="442.7" width="9.0" height="9.0" stroke="#DA70D6" stroke-width="2.0" fill="none"/><rect x="635.4" y="453.0" width="9.0" height="9.0" stroke="#DA70D6" stroke-width="2.0" fill="none"/><rect x="653.1" y="480.3" width="9.0" height="9.0" stroke="#DA70D6" stroke-width="2.0" fill="none"/><rect x="670.8" y="497.8" width="9.0" height="9.0" stroke="#DA70D6" stroke-width="2.0" fill="none"/><rect x="688.4" y="509.7" width="9.0" height="9.0" stroke="#DA70D6" stroke-width="2.0" fill="none"/><rect x="706.1" y="518.8" width="9.0" height="9.0" stroke="#DA70D6" stroke-width="2.0" fill="none"/><rect x="723.8" y="523.1" width="9.0" height="9.0" stroke="#DA70D6" stroke-width="2.0" fill="none"/><rect x="741.5" y="521.9" width="9.0" height="9.0" stroke="#DA70D6" stroke-width="2.0" fill="none"/><rect x="759.1" y="508.1" width="9.0" height="9.0" stroke="#DA70D6" stroke-width="2.0" fill="none"/><rect x="776.8" y="509.3" width="9.0" height="9.0" stroke="#DA70D6" stroke-width="2.0" fill="none"/><rect x="794.5" y="537.0" width="9.0" height="9.0" stroke="#DA70D6" stroke-width="2.0" fill="none"/><rect x="812.1" y="544.1" width="9.0" height="9.0" stroke="#DA70D6" stroke-width="2.0" fill="none"/><rect x="829.8" y="554.8" width="9.0" height="9.0" stroke="#DA70D6" stroke-width="2.0" fill="none"/><rect x="847.5" y="565.9" width="9.0" height="9.0" stroke="#DA70D6" stroke-width="2.0" fill="none"/><rect x="865.2" y="577.8" width="9.0" height="9.0" stroke="#DA70D6" stroke-width="2.0" fill="none"/><rect x="882.8" y="535.0" width="9.0" height="9.0" stroke="#DA70D6" stroke-width="2.0" fill="none"/><rect x="900.5" y="569.1" width="9.0" height="9.0" stroke="#DA70D6" stroke-width="2.0" fill="none"/><rect x="918.2" y="548.9" width="9.0" height="9.0" stroke="#DA70D6" stroke-width="2.0" fill="none"/><rect x="935.8" y="535.0" width="9.0" height="9.0" stroke="#DA70D6" stroke-width="2.0" fill="none"/><rect x="953.5" y="457.7" width="9.0" height="9.0" stroke="#DA70D6" stroke-width="2.0" fill="none"/><rect x="971.2" y="447.0" width="9.0" height="9.0" stroke="#DA70D6" stroke-width="2.0" fill="none"/><rect x="988.8" y="460.9" width="9.0" height="9.0" stroke="#DA70D6" stroke-width="2.0" fill="none"/><rect x="1006.5" y="474.0" width="9.0" height="9.0" stroke="#DA70D6" stroke-width="2.0" fill="none"/><rect x="1024.2" y="479.9" width="9.0" height="9.0" stroke="#DA70D6" stroke-width="2.0" fill="none"/><rect x="1041.9" y="516.8" width="9.0" height="9.0" stroke="#DA70D6" stroke-width="2.0" fill="none"/><rect x="1059.5" y="529.1" width="9.0" height="9.0" stroke="#DA70D6" stroke-width="2.0" fill="none"/><rect x="1077.2" y="539.0" width="9.0" height="9.0" stroke="#DA70D6" stroke-width="2.0" fill="none"/><rect x="1094.9" y="554.8" width="9.0" height="9.0" stroke="#DA70D6" stroke-width="2.0" fill="none"/><rect x="1112.5" y="564.0" width="9.0" height="9.0" stroke="#DA70D6" stroke-width="2.0" fill="none"/><rect x="1130.2" y="563.2" width="9.0" height="9.0" stroke="#DA70D6" stroke-width="2.0" fill="none"/><rect x="1147.9" y="562.0" width="9.0" height="9.0" stroke="#DA70D6" stroke-width="2.0" fill="none"/><rect x="1165.6" y="556.8" width="9.0" height="9.0" stroke="#DA70D6" stroke-width="2.0" fill="none"/><rect x="1183.2" y="546.1" width="9.0" height="9.0" stroke="#DA70D6" stroke-width="2.0" fill="none"/><rect x="1200.9" y="546.9" width="9.0" height="9.0" stroke="#DA70D6" stroke-width="2.0" fill="none"/><rect x="1218.6" y="567.9" width="9.0" height="9.0" stroke="#DA70D6" stroke-width="2.0" fill="none"/><rect x="1236.2" y="583.0" width="9.0" height="9.0" stroke="#DA70D6" stroke-width="2.0" fill="none"/><rect x="1253.9" y="586.2" width="9.0" height="9.0" stroke="#DA70D6" stroke-width="2.0" fill="none"/><rect x="1271.6" y="587.0" width="9.0" height="9.0" stroke="#DA70D6" stroke-width="2.0" fill="none"/><rect x="1289.3" y="587.0" width="9.0" height="9.0" stroke="#DA70D6" stroke-width="2.0" fill="none"/><rect x="1306.9" y="575.9" width="9.0" height="9.0" stroke="#DA70D6" stroke-width="2.0" fill="none"/><rect x="1324.6" y="558.0" width="9.0" height="9.0" stroke="#DA70D6" stroke-width="2.0" fill="none"/><rect x="1342.3" y="533.0" width="9.0" height="9.0" stroke="#DA70D6" stroke-width="2.0" fill="none"/><rect x="1359.9" y="519.2" width="9.0" height="9.0" stroke="#DA70D6" stroke-width="2.0" fill="none"/><rect x="1377.6" y="476.0" width="9.0" height="9.0" stroke="#DA70D6" stroke-width="2.0" fill="none"/><rect x="1395.3" y="461.7" width="9.0" height="9.0" stroke="#DA70D6" stroke-width="2.0" fill="none"/><rect x="1412.9" y="497.0" width="9.0" height="9.0" stroke="#DA70D6" stroke-width="2.0" fill="none"/><rect x="1430.6" y="515.6" width="9.0" height="9.0" stroke="#DA70D6" stroke-width="2.0" fill="none"/><rect x="1448.3" y="518.0" width="9.0" height="9.0" stroke="#DA70D6" stroke-width="2.0" fill="none"/><rect x="1466.0" y="527.9" width="9.0" height="9.0" stroke="#DA70D6" stroke-width="2.0" fill="none"/><rect x="1483.6" y="540.2" width="9.0" height="9.0" stroke="#DA70D6" stroke-width="2.0" fill="none"/><rect x="1501.3" y="554.1" width="9.0" height="9.0" stroke="#DA70D6" stroke-width="2.0" fill="none"/><rect x="1519.0" y="575.1" width="9.0" height="9.0" stroke="#DA70D6" stroke-width="2.0" fill="none"/><rect x="1536.6" y="581.0" width="9.0" height="9.0" stroke="#DA70D6" stroke-width="2.0" fill="none"/><rect x="1554.3" y="581.4" width="9.0" height="9.0" stroke="#DA70D6" stroke-width="2.0" fill="none"/><rect x="1572.0" y="580.2" width="9.0" height="9.0" stroke="#DA70D6" stroke-width="2.0" fill="none"/><rect x="1589.7" y="573.9" width="9.0" height="9.0" stroke="#DA70D6" stroke-width="2.0" fill="none"/><rect x="1607.3" y="560.0" width="9.0" height="9.0" stroke="#DA70D6" stroke-width="2.0" fill="none"/><rect x="1625.0" y="546.9" width="9.0" height="9.0" stroke="#DA70D6" stroke-width="2.0" fill="none"/></g>
<polyline points="233.5,509.0 251.2,428.5 268.8,528.8 286.5,572.4 304.2,592.6 321.9,604.5 339.5,611.7 357.2,617.6 374.9,632.7 392.5,645.4 410.2,653.7 427.9,657.7 445.6,660.4 463.2,662.0 480.9,659.6 498.6,656.5 516.2,651.7 533.9,614.5 551.6,458.7 569.2,490.4 586.9,552.6 604.6,461.4 622.3,622.4 639.9,624.4 657.6,626.3 675.3,629.5 692.9,631.5 710.6,633.5 728.3,634.3 746.0,634.7 763.6,633.1 781.3,632.7 799.0,642.6 816.6,648.5 834.3,653.7 852.0,657.7 869.7,659.6 887.3,660.4 905.0,659.6 922.7,657.7 940.3,652.5 958.0,642.6 975.7,629.5 993.3,631.5 1011.0,634.7 1028.7,640.6 1046.4,634.7 1064.0,631.5 1081.7,635.5 1099.4,637.0 1117.0,638.6 1134.7,639.8 1152.4,637.4 1170.1,634.7 1187.7,631.5 1205.4,629.1 1223.1,631.5 1240.7,636.6 1258.4,646.6 1276.1,651.7 1293.8,652.5 1311.4,652.5 1329.1,650.5 1346.8,647.4 1364.4,642.6 1382.1,632.7 1399.8,621.6 1417.4,625.5 1435.1,631.5 1452.8,636.6 1470.5,638.6 1488.1,639.4 1505.8,641.0 1523.5,643.0 1541.1,644.2 1558.8,644.6 1576.5,644.6 1594.2,643.4 1611.8,640.2 1629.5,638.2" fill="none" stroke="#10A5A0" stroke-width="2.00" stroke-linejoin="miter" />
<polyline points="232.1,294.9 249.8,285.8 267.4,292.2 285.1,353.6 302.8,400.4 320.5,416.2 338.1,423.4 355.8,463.4 373.5,518.9 391.1,545.5 408.8,565.7 426.5,583.5 444.2,582.7 461.8,588.7 479.5,574.4 497.2,544.7 514.8,501.9 532.5,381.7 550.2,160.9 567.8,178.8 585.5,162.1 603.2,225.2 620.9,363.5 638.5,418.6 656.2,440.0 673.9,462.6 691.5,480.1 709.2,492.7 726.9,496.3 744.6,494.7 762.2,477.3 779.9,493.1 797.6,532.4 815.2,546.7 832.9,556.6 850.6,571.6 868.3,580.4 885.9,563.3 903.6,580.4 921.3,563.3 938.9,528.4 956.6,477.3 974.3,440.4 991.9,462.2 1009.6,464.2 1027.3,426.9 1045.0,496.3 1062.6,492.4 1080.3,526.0 1098.0,543.5 1115.6,556.6 1133.3,562.5 1151.0,563.3 1168.7,553.4 1186.3,538.3 1204.0,539.5 1221.7,574.4 1239.3,577.6 1257.0,585.5 1274.7,591.5 1292.4,592.6 1310.0,576.4 1327.7,564.5 1345.4,550.6 1363.0,530.4 1380.7,491.6 1398.4,415.0 1416.0,440.4 1433.7,474.9 1451.4,510.2 1469.1,534.0 1486.7,544.7 1504.4,555.4 1522.1,567.7 1539.7,572.4 1557.4,573.6 1575.1,572.8 1592.8,566.5 1610.4,550.6 1628.1,540.3" fill="none" stroke="#CD853F" stroke-width="2.00" stroke-linejoin="miter" />
<g><circle cx="232.1" cy="294.9" r="5.6" fill="none" stroke="#CD853F" stroke-width="2.0"/><circle cx="249.8" cy="285.8" r="5.6" fill="none" stroke="#CD853F" stroke-width="2.0"/><circle cx="267.4" cy="292.2" r="5.6" fill="none" stroke="#CD853F" stroke-width="2.0"/><circle cx="285.1" cy="353.6" r="5.6" fill="none" stroke="#CD853F" stroke-width="2.0"/><circle cx="302.8" cy="400.4" r="5.6" fill="none" stroke="#CD853F" stroke-width="2.0"/><circle cx="320.5" cy="416.2" r="5.6" fill="none" stroke="#CD853F" stroke-width="2.0"/><circle cx="338.1" cy="423.4" r="5.6" fill="none" stroke="#CD853F" stroke-width="2.0"/><circle cx="355.8" cy="463.4" r="5.6" fill="none" stroke="#CD853F" stroke-width="2.0"/><circle cx="373.5" cy="518.9" r="5.6" fill="none" stroke="#CD853F" stroke-width="2.0"/><circle cx="391.1" cy="545.5" r="5.6" fill="none" stroke="#CD853F" stroke-width="2.0"/><circle cx="408.8" cy="565.7" r="5.6" fill="none" stroke="#CD853F" stroke-width="2.0"/><circle cx="426.5" cy="583.5" r="5.6" fill="none" stroke="#CD853F" stroke-width="2.0"/><circle cx="444.2" cy="582.7" r="5.6" fill="none" stroke="#CD853F" stroke-width="2.0"/><circle cx="461.8" cy="588.7" r="5.6" fill="none" stroke="#CD853F" stroke-width="2.0"/><circle cx="479.5" cy="574.4" r="5.6" fill="none" stroke="#CD853F" stroke-width="2.0"/><circle cx="497.2" cy="544.7" r="5.6" fill="none" stroke="#CD853F" stroke-width="2.0"/><circle cx="514.8" cy="501.9" r="5.6" fill="none" stroke="#CD853F" stroke-width="2.0"/><circle cx="532.5" cy="381.7" r="5.6" fill="none" stroke="#CD853F" stroke-width="2.0"/><circle cx="550.2" cy="160.9" r="5.6" fill="none" stroke="#CD853F" stroke-width="2.0"/><circle cx="567.8" cy="178.8" r="5.6" fill="none" stroke="#CD853F" stroke-width="2.0"/><circle cx="585.5" cy="162.1" r="5.6" fill="none" stroke="#CD853F" stroke-width="2.0"/><circle cx="603.2" cy="225.2" r="5.6" fill="none" stroke="#CD853F" stroke-width="2.0"/><circle cx="620.9" cy="363.5" r="5.6" fill="none" stroke="#CD853F" stroke-width="2.0"/><circle cx="638.5" cy="418.6" r="5.6" fill="none" stroke="#CD853F" stroke-width="2.0"/><circle cx="656.2" cy="440.0" r="5.6" fill="none" stroke="#CD853F" stroke-width="2.0"/><circle cx="673.9" cy="462.6" r="5.6" fill="none" stroke="#CD853F" stroke-width="2.0"/><circle cx="691.5" cy="480.1" r="5.6" fill="none" stroke="#CD853F" stroke-width="2.0"/><circle cx="709.2" cy="492.7" r="5.6" fill="none" stroke="#CD853F" stroke-width="2.0"/><circle cx="726.9" cy="496.3" r="5.6" fill="none" stroke="#CD853F" stroke-width="2.0"/><circle cx="744.6" cy="494.7" r="5.6" fill="none" stroke="#CD853F" stroke-width="2.0"/><circle cx="762.2" cy="477.3" r="5.6" fill="none" stroke="#CD853F" stroke-width="2.0"/><circle cx="779.9" cy="493.1" r="5.6" fill="none" stroke="#CD853F" stroke-width="2.0"/><circle cx="797.6" cy="532.4" r="5.6" fill="none" stroke="#CD853F" stroke-width="2.0"/><circle cx="815.2" cy="546.7" r="5.6" fill="none" stroke="#CD853F" stroke-width="2.0"/><circle cx="832.9" cy="556.6" r="5.6" fill="none" stroke="#CD853F" stroke-width="2.0"/><circle cx="850.6" cy="571.6" r="5.6" fill="none" stroke="#CD853F" stroke-width="2.0"/><circle cx="868.3" cy="580.4" r="5.6" fill="none" stroke="#CD853F" stroke-width="2.0"/><circle cx="885.9" cy="563.3" r="5.6" fill="none" stroke="#CD853F" stroke-width="2.0"/><circle cx="903.6" cy="580.4" r="5.6" fill="none" stroke="#CD853F" stroke-width="2.0"/><circle cx="921.3" cy="563.3" r="5.6" fill="none" stroke="#CD853F" stroke-width="2.0"/><circle cx="938.9" cy="528.4" r="5.6" fill="none" stroke="#CD853F" stroke-width="2.0"/><circle cx="956.6" cy="477.3" r="5.6" fill="none" stroke="#CD853F" stroke-width="2.0"/><circle cx="974.3" cy="440.4" r="5.6" fill="none" stroke="#CD853F" stroke-width="2.0"/><circle cx="991.9" cy="462.2" r="5.6" fill="none" stroke="#CD853F" stroke-width="2.0"/><circle cx="1009.6" cy="464.2" r="5.6" fill="none" stroke="#CD853F" stroke-width="2.0"/><circle cx="1027.3" cy="426.9" r="5.6" fill="none" stroke="#CD853F" stroke-width="2.0"/><circle cx="1045.0" cy="496.3" r="5.6" fill="none" stroke="#CD853F" stroke-width="2.0"/><circle cx="1062.6" cy="492.4" r="5.6" fill="none" stroke="#CD853F" stroke-width="2.0"/><circle cx="1080.3" cy="526.0" r="5.6" fill="none" stroke="#CD853F" stroke-width="2.0"/><circle cx="1098.0" cy="543.5" r="5.6" fill="none" stroke="#CD853F" stroke-width="2.0"/><circle cx="1115.6" cy="556.6" r="5.6" fill="none" stroke="#CD853F" stroke-width="2.0"/><circle cx="1133.3" cy="562.5" r="5.6" fill="none" stroke="#CD853F" stroke-width="2.0"/><circle cx="1151.0" cy="563.3" r="5.6" fill="none" stroke="#CD853F" stroke-width="2.0"/><circle cx="1168.7" cy="553.4" r="5.6" fill="none" stroke="#CD853F" stroke-width="2.0"/><circle cx="1186.3" cy="538.3" r="5.6" fill="none" stroke="#CD853F" stroke-width="2.0"/><circle cx="1204.0" cy="539.5" r="5.6" fill="none" stroke="#CD853F" stroke-width="2.0"/><circle cx="1221.7" cy="574.4" r="5.6" fill="none" stroke="#CD853F" stroke-width="2.0"/><circle cx="1239.3" cy="577.6" r="5.6" fill="none" stroke="#CD853F" stroke-width="2.0"/><circle cx="1257.0" cy="585.5" r="5.6" fill="none" stroke="#CD853F" stroke-width="2.0"/><circle cx="1274.7" cy="591.5" r="5.6" fill="none" stroke="#CD853F" stroke-width="2.0"/><circle cx="1292.4" cy="592.6" r="5.6" fill="none" stroke="#CD853F" stroke-width="2.0"/><circle cx="1310.0" cy="576.4" r="5.6" fill="none" stroke="#CD853F" stroke-width="2.0"/><circle cx="1327.7" cy="564.5" r="5.6" fill="none" stroke="#CD853F" stroke-width="2.0"/><circle cx="1345.4" cy="550.6" r="5.6" fill="none" stroke="#CD853F" stroke-width="2.0"/><circle cx="1363.0" cy="530.4" r="5.6" fill="none" stroke="#CD853F" stroke-width="2.0"/><circle cx="1380.7" cy="491.6" r="5.6" fill="none" stroke="#CD853F" stroke-width="2.0"/><circle cx="1398.4" cy="415.0" r="5.6" fill="none" stroke="#CD853F" stroke-width="2.0"/><circle cx="1416.0" cy="440.4" r="5.6" fill="none" stroke="#CD853F" stroke-width="2.0"/><circle cx="1433.7" cy="474.9" r="5.6" fill="none" stroke="#CD853F" stroke-width="2.0"/><circle cx="1451.4" cy="510.2" r="5.6" fill="none" stroke="#CD853F" stroke-width="2.0"/><circle cx="1469.1" cy="534.0" r="5.6" fill="none" stroke="#CD853F" stroke-width="2.0"/><circle cx="1486.7" cy="544.7" r="5.6" fill="none" stroke="#CD853F" stroke-width="2.0"/><circle cx="1504.4" cy="555.4" r="5.6" fill="none" stroke="#CD853F" stroke-width="2.0"/><circle cx="1522.1" cy="567.7" r="5.6" fill="none" stroke="#CD853F" stroke-width="2.0"/><circle cx="1539.7" cy="572.4" r="5.6" fill="none" stroke="#CD853F" stroke-width="2.0"/><circle cx="1557.4" cy="573.6" r="5.6" fill="none" stroke="#CD853F" stroke-width="2.0"/><circle cx="1575.1" cy="572.8" r="5.6" fill="none" stroke="#CD853F" stroke-width="2.0"/><circle cx="1592.8" cy="566.5" r="5.6" fill="none" stroke="#CD853F" stroke-width="2.0"/><circle cx="1610.4" cy="550.6" r="5.6" fill="none" stroke="#CD853F" stroke-width="2.0"/><circle cx="1628.1" cy="540.3" r="5.6" fill="none" stroke="#CD853F" stroke-width="2.0"/></g></g>
<rect x="233.5" y="120.5" width="1396.0" height="555.0" fill="none" stroke="#262626" stroke-width="1"/>
<path d="M304.5 675.5v-14.0M304.5 120.5v14.0M374.5 675.5v-14.0M374.5 120.5v14.0M445.5 675.5v-14.0M445.5 120.5v14.0M516.5 675.5v-14.0M516.5 120.5v14.0M586.5 675.5v-14.0M586.5 120.5v14.0M657.5 675.5v-14.0M657.5 120.5v14.0M728.5 675.5v-14.0M728.5 120.5v14.0M798.5 675.5v-14.0M798.5 120.5v14.0M869.5 675.5v-14.0M869.5 120.5v14.0M940.5 675.5v-14.0M940.5 120.5v14.0M1011.5 675.5v-14.0M1011.5 120.5v14.0M1081.5 675.5v-14.0M1081.5 120.5v14.0M1152.5 675.5v-14.0M1152.5 120.5v14.0M1223.5 675.5v-14.0M1223.5 120.5v14.0M1293.5 675.5v-14.0M1293.5 120.5v14.0M1364.5 675.5v-14.0M1364.5 120.5v14.0M1435.5 675.5v-14.0M1435.5 120.5v14.0M1505.5 675.5v-14.0M1505.5 120.5v14.0M233.5 596.5h14.0M1629.5 596.5h-14.0M233.5 516.5h14.0M1629.5 516.5h-14.0M233.5 437.5h14.0M1629.5 437.5h-14.0M233.5 358.5h14.0M1629.5 358.5h-14.0M233.5 279.5h14.0M1629.5 279.5h-14.0M233.5 199.5h14.0M1629.5 199.5h-14.0" stroke="#262626" stroke-width="1" fill="none"/>
<g font-family="'Liberation Mono', monospace" font-size="25.3" fill="#3a3a3a" class="thin">
<text y="683.7" xml:space="preserve" ><tspan x="209.33" font-family="'Liberation Sans', sans-serif" font-size="23.66">0</tspan></text>
<text y="604.4" xml:space="preserve" ><tspan x="193.14">2</tspan><tspan x="209.33" font-family="'Liberation Sans', sans-serif" font-size="23.66">0</tspan></text>
<text y="525.1" xml:space="preserve" ><tspan x="193.14">4</tspan><tspan x="209.33" font-family="'Liberation Sans', sans-serif" font-size="23.66">0</tspan></text>
<text y="445.8" xml:space="preserve" ><tspan x="193.14">6</tspan><tspan x="209.33" font-family="'Liberation Sans', sans-serif" font-size="23.66">0</tspan></text>
<text y="366.6" xml:space="preserve" ><tspan x="193.14">8</tspan><tspan x="209.33" font-family="'Liberation Sans', sans-serif" font-size="23.66">0</tspan></text>
<text y="287.3" xml:space="preserve" ><tspan x="177.95">1</tspan><tspan x="194.15" font-family="'Liberation Sans', sans-serif" font-size="23.66">0</tspan><tspan x="209.33" font-family="'Liberation Sans', sans-serif" font-size="23.66">0</tspan></text>
<text y="208.0" xml:space="preserve" ><tspan x="177.95">12</tspan><tspan x="209.33" font-family="'Liberation Sans', sans-serif" font-size="23.66">0</tspan></text>
<text y="128.7" xml:space="preserve" ><tspan x="177.95">14</tspan><tspan x="209.33" font-family="'Liberation Sans', sans-serif" font-size="23.66">0</tspan></text>
<text y="706.3" xml:space="preserve" ><tspan x="172.27">1</tspan><tspan x="188.47" font-family="'Liberation Sans', sans-serif" font-size="23.66">0</tspan><tspan x="202.64">-19 </tspan><tspan x="264.38" font-family="'Liberation Sans', sans-serif" font-size="23.66">0</tspan><tspan x="279.56" font-family="'Liberation Sans', sans-serif" font-size="23.66">0</tspan></text>
<text y="706.3" xml:space="preserve" ><tspan x="289.51" font-family="'Liberation Sans', sans-serif" font-size="23.66">0</tspan><tspan x="303.68">4</tspan></text>
<text y="706.3" xml:space="preserve" ><tspan x="360.20" font-family="'Liberation Sans', sans-serif" font-size="23.66">0</tspan><tspan x="374.37">8</tspan></text>
<text y="706.3" xml:space="preserve" ><tspan x="429.87">12</tspan></text>
<text y="706.3" xml:space="preserve" ><tspan x="500.55">16</tspan></text>
<text y="706.3" xml:space="preserve" ><tspan x="571.24">2</tspan><tspan x="587.43" font-family="'Liberation Sans', sans-serif" font-size="23.66">0</tspan></text>
<text y="706.3" xml:space="preserve" ><tspan x="596.37">1</tspan><tspan x="612.57" font-family="'Liberation Sans', sans-serif" font-size="23.66">0</tspan><tspan x="626.74">-2</tspan><tspan x="658.12" font-family="'Liberation Sans', sans-serif" font-size="23.66">0</tspan><tspan x="672.28"> </tspan><tspan x="688.48" font-family="'Liberation Sans', sans-serif" font-size="23.66">0</tspan><tspan x="703.66" font-family="'Liberation Sans', sans-serif" font-size="23.66">0</tspan></text>
<text y="706.3" xml:space="preserve" ><tspan x="713.62" font-family="'Liberation Sans', sans-serif" font-size="23.66">0</tspan><tspan x="727.78">4</tspan></text>
<text y="706.3" xml:space="preserve" ><tspan x="784.30" font-family="'Liberation Sans', sans-serif" font-size="23.66">0</tspan><tspan x="798.47">8</tspan></text>
<text y="706.3" xml:space="preserve" ><tspan x="853.97">12</tspan></text>
<text y="706.3" xml:space="preserve" ><tspan x="924.65">16</tspan></text>
<text y="706.3" xml:space="preserve" ><tspan x="995.34">2</tspan><tspan x="1011.53" font-family="'Liberation Sans', sans-serif" font-size="23.66">0</tspan></text>
<text y="706.3" xml:space="preserve" ><tspan x="1020.47">1</tspan><tspan x="1036.67" font-family="'Liberation Sans', sans-serif" font-size="23.66">0</tspan><tspan x="1050.84">-21 </tspan><tspan x="1112.58" font-family="'Liberation Sans', sans-serif" font-size="23.66">0</tspan><tspan x="1127.76" font-family="'Liberation Sans', sans-serif" font-size="23.66">0</tspan></text>
<text y="706.3" xml:space="preserve" ><tspan x="1137.72" font-family="'Liberation Sans', sans-serif" font-size="23.66">0</tspan><tspan x="1151.89">4</tspan></text>
<text y="706.3" xml:space="preserve" ><tspan x="1208.40" font-family="'Liberation Sans', sans-serif" font-size="23.66">0</tspan><tspan x="1222.57">8</tspan></text>
<text y="706.3" xml:space="preserve" ><tspan x="1278.07">12</tspan></text>
<text y="706.3" xml:space="preserve" ><tspan x="1348.75">16</tspan></text>
<text y="706.3" xml:space="preserve" ><tspan x="1419.44">2</tspan><tspan x="1435.63" font-family="'Liberation Sans', sans-serif" font-size="23.66">0</tspan></text>
<text y="706.3" xml:space="preserve" ><tspan x="1444.57">1</tspan><tspan x="1460.77" font-family="'Liberation Sans', sans-serif" font-size="23.66">0</tspan><tspan x="1474.94">-19 </tspan><tspan x="1536.68" font-family="'Liberation Sans', sans-serif" font-size="23.66">0</tspan><tspan x="1551.87" font-family="'Liberation Sans', sans-serif" font-size="23.66">0</tspan></text>
</g>
<g font-family="'Liberation Mono', monospace" font-size="27.5" fill="#3a3a3a" class="thin">
<text x="930.5" y="736.5" text-anchor="middle">Date</text>
<text transform="translate(154.5,618.5) rotate(-90)">NO<tspan dy="13" font-size="22">2</tspan><tspan dy="-13"> concentrations [</tspan><tspan font-style="italic">μ</tspan>g m<tspan dy="-12" font-size="22">-3</tspan><tspan dy="12">]</tspan></text>
</g>
<g font-family="'Liberation Mono', monospace" font-size="31.0" fill="#111" class="thin2">
<text y="477.0" xml:space="preserve" ><tspan x="234.00">26</tspan></text>
<text y="563.0" xml:space="preserve" ><tspan x="304.68">15</tspan></text>
<text y="606.6" xml:space="preserve" ><tspan x="375.37">9</tspan></text>
<text y="639.0" xml:space="preserve" ><tspan x="446.05">5</tspan></text>
<text y="606.0" xml:space="preserve" ><tspan x="516.73">1</tspan><tspan x="536.58" font-family="'Liberation Sans', sans-serif" font-size="28.99">0</tspan></text>
<text y="419.0" xml:space="preserve" ><tspan x="587.42">33</tspan></text>
<text y="599.0" xml:space="preserve" ><tspan x="658.10">1</tspan><tspan x="677.95" font-family="'Liberation Sans', sans-serif" font-size="28.99">0</tspan></text>
<text y="617.6" xml:space="preserve" ><tspan x="728.78">8</tspan></text>
<text y="619.0" xml:space="preserve" ><tspan x="799.47">8</tspan></text>
<text y="644.0" xml:space="preserve" ><tspan x="870.15">5</tspan></text>
<text y="626.6" xml:space="preserve" ><tspan x="940.84">7</tspan></text>
<text y="595.0" xml:space="preserve" ><tspan x="1011.52">11</tspan></text>
<text y="623.0" xml:space="preserve" ><tspan x="1082.20">7</tspan></text>
<text y="631.0" xml:space="preserve" ><tspan x="1152.89">6</tspan></text>
<text y="622.0" xml:space="preserve" ><tspan x="1223.57">7</tspan></text>
<text y="640.6" xml:space="preserve" ><tspan x="1294.25">5</tspan></text>
<text y="621.2" xml:space="preserve" ><tspan x="1364.94">8</tspan></text>
<text y="607.0" xml:space="preserve" ><tspan x="1435.62">9</tspan></text>
<text y="628.6" xml:space="preserve" ><tspan x="1506.30">7</tspan></text>
<text y="637.0" xml:space="preserve" ><tspan x="1576.99">6</tspan></text>
<text y="681.6" xml:space="preserve" ><tspan x="1648.91" font-family="'Liberation Sans', sans-serif" font-size="28.99">0</tspan></text>
<text y="681.6" xml:space="preserve" ><tspan x="1719.60" font-family="'Liberation Sans', sans-serif" font-size="28.99">0</tspan></text>
<text y="681.6" xml:space="preserve" ><tspan x="1790.28" font-family="'Liberation Sans', sans-serif" font-size="28.99">0</tspan></text>
</g>
<g font-family="'Liberation Sans', 'Noto Sans CJK SC', sans-serif" font-size="23" letter-spacing="1.75" font-weight="350" fill="#1c1c1c"><path d="M358.3 67.3h62" stroke="#CD853F" stroke-width="2" fill="none"/>
<circle cx="389.0" cy="67.3" r="5.6" fill="none" stroke="#CD853F" stroke-width="2.0"/>
<text x="427.3" y="74.0">福田</text>
<path d="M485.8 67.3h62" stroke="#6A5ACD" stroke-width="2" fill="none"/>
<text x="554.8" y="74.0">罗湖</text>
<path d="M614.3 67.3h62" stroke="#87CEFA" stroke-width="2" fill="none"/>
<path d="M639.3 67.3h11.4M645.0 61.6v11.4" stroke="#87CEFA" stroke-width="2.0" fill="none"/>
<text x="683.3" y="74.0">南山</text>
<path d="M741.4 67.3h62" stroke="#4682B4" stroke-width="2" fill="none"/>
<path d="M766.1 67.3h12.0M772.1 61.3v12.0M767.8 63.0l8.6 8.6M767.8 71.6l8.6 -8.6" stroke="#4682B4" stroke-width="2.0" fill="none"/>
<text x="810.4" y="74.0">盐田</text>
<path d="M870.6 67.3h62" stroke="#FFD700" stroke-width="2" fill="none"/>
<path d="M901.3 59.2L907.9 71.7L894.7 71.7Z" stroke="#FFD700" stroke-width="2.0" fill="none" stroke-linejoin="miter"/>
<text x="939.6" y="74.0">龙岗</text>
<path d="M1000.3 67.3h62" stroke="#FF8C00" stroke-width="2" fill="none"/>
<text x="1069.3" y="74.0">宝安</text>
<path d="M1129.5 67.3h62" stroke="#A5E614" stroke-width="2" fill="none"/>
<path d="M1160.2 58.8L1166.0 67.3L1160.2 75.8L1154.4 67.3Z" stroke="#A5E614" stroke-width="2.0" fill="none" stroke-linejoin="miter"/>
<text x="1198.5" y="74.0">大鹏</text>
<path d="M1258.6 67.3h62" stroke="#DA70D6" stroke-width="2" fill="none"/>
<rect x="1284.8" y="62.8" width="9.0" height="9.0" stroke="#DA70D6" stroke-width="2.0" fill="none"/>
<text x="1327.6" y="74.0">龙华</text>
<path d="M1387.3 67.3h62" stroke="#10A5A0" stroke-width="2" fill="none"/>
<text x="1456.3" y="74.0">坪山</text></g>
</svg>
</body></html>
